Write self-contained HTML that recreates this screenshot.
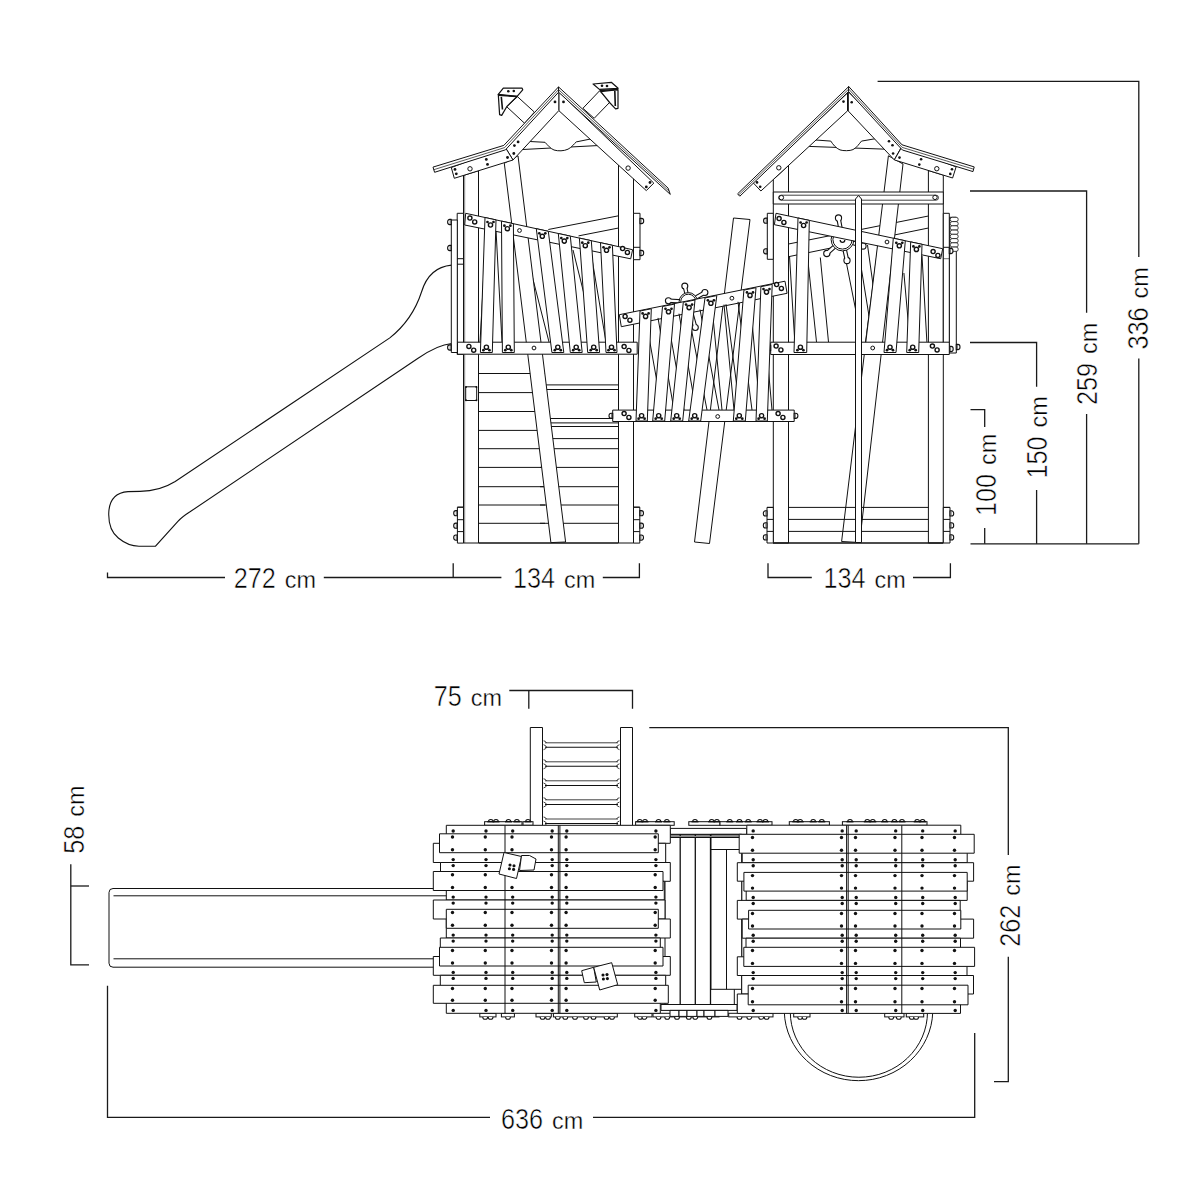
<!DOCTYPE html>
<html><head><meta charset="utf-8"><style>
html,body{margin:0;padding:0;background:#fff;width:1200px;height:1200px;overflow:hidden}
svg{display:block}
</style></head><body>
<svg width="1200" height="1200" viewBox="0 0 1200 1200">
<rect width="1200" height="1200" fill="#fff"/>
<g class="dim" fill="none" stroke="#1a1a1a" stroke-width="1.3">
<!-- 272 / 134 top -->
<polyline points="107.5,572.5 107.5,577.5 225,577.5"/>
<polyline points="323.8,577.5 501.4,577.5"/>
<line x1="453.2" y1="563.2" x2="453.2" y2="577.5"/>
<polyline points="602.8,577.5 639.4,577.5 639.4,563.2"/>
<polyline points="768,563.2 768,577.5 811.8,577.5"/>
<polyline points="913,577.5 950.4,577.5 950.4,563.2"/>
<!-- right verticals -->
<polyline points="877.6,81.3 1138.8,81.3 1138.8,257"/>
<line x1="1138.8" y1="358.4" x2="1138.8" y2="543.8"/>
<polyline points="970,191 1086.6,191 1086.6,312.7"/>
<line x1="1086.6" y1="414" x2="1086.6" y2="543.8"/>
<polyline points="970,342.5 1036.6,342.5 1036.6,386.8"/>
<line x1="1036.6" y1="490" x2="1036.6" y2="543.8"/>
<polyline points="970.5,409.6 984.7,409.6 984.7,427"/>
<line x1="984.7" y1="528" x2="984.7" y2="543.8"/>
<line x1="970.5" y1="543.8" x2="1138.8" y2="543.8"/>
<!-- 75 -->
<polyline points="509.3,690.5 632.5,690.5 632.5,708.8"/>
<line x1="528.8" y1="690.5" x2="528.8" y2="708.8"/>
<!-- 262 -->
<polyline points="649.3,727.7 1008.3,727.7 1008.3,855"/>
<polyline points="1008.3,956.7 1008.3,1081.7 994,1081.7"/>
<!-- 58 -->
<polyline points="70.8,864.3 70.8,964.8 89,964.8"/>
<line x1="70.8" y1="886" x2="89" y2="886"/>
<!-- 636 -->
<polyline points="107.5,985.8 107.5,1117.4 490,1117.4"/>
<polyline points="593,1117.4 974.7,1117.4 974.7,1032.9"/>
</g>
<g font-family="Liberation Sans, sans-serif" fill="#000" stroke="#fff" stroke-linejoin="round">
<g transform="translate(233.8,587.8)"><text x="0" y="0" font-size="29" stroke-width="0.55" textLength="42.0" lengthAdjust="spacingAndGlyphs">272</text><text x="51.0" y="0" font-size="23.8" stroke-width="0.35" textLength="31.2" lengthAdjust="spacingAndGlyphs">cm</text></g>
<g transform="translate(513,587.8)"><text x="0" y="0" font-size="29" stroke-width="0.55" textLength="42.0" lengthAdjust="spacingAndGlyphs">134</text><text x="51.0" y="0" font-size="23.8" stroke-width="0.35" textLength="31.2" lengthAdjust="spacingAndGlyphs">cm</text></g>
<g transform="translate(823.5,587.8)"><text x="0" y="0" font-size="29" stroke-width="0.55" textLength="42.0" lengthAdjust="spacingAndGlyphs">134</text><text x="51.0" y="0" font-size="23.8" stroke-width="0.35" textLength="31.2" lengthAdjust="spacingAndGlyphs">cm</text></g>
<g transform="translate(433.8,706.3)"><text x="0" y="0" font-size="29" stroke-width="0.55" textLength="28.0" lengthAdjust="spacingAndGlyphs">75</text><text x="37.0" y="0" font-size="23.8" stroke-width="0.35" textLength="31.2" lengthAdjust="spacingAndGlyphs">cm</text></g>
<g transform="translate(501,1129)"><text x="0" y="0" font-size="29" stroke-width="0.55" textLength="42.0" lengthAdjust="spacingAndGlyphs">636</text><text x="51.0" y="0" font-size="23.8" stroke-width="0.35" textLength="31.2" lengthAdjust="spacingAndGlyphs">cm</text></g>
<g transform="translate(995.5,516) rotate(-90)"><text x="0" y="0" font-size="29" stroke-width="0.55" textLength="42.0" lengthAdjust="spacingAndGlyphs">100</text><text x="51.0" y="0" font-size="23.8" stroke-width="0.35" textLength="31.2" lengthAdjust="spacingAndGlyphs">cm</text></g>
<g transform="translate(1047,478.5) rotate(-90)"><text x="0" y="0" font-size="29" stroke-width="0.55" textLength="42.0" lengthAdjust="spacingAndGlyphs">150</text><text x="51.0" y="0" font-size="23.8" stroke-width="0.35" textLength="31.2" lengthAdjust="spacingAndGlyphs">cm</text></g>
<g transform="translate(1097,405) rotate(-90)"><text x="0" y="0" font-size="29" stroke-width="0.55" textLength="42.0" lengthAdjust="spacingAndGlyphs">259</text><text x="51.0" y="0" font-size="23.8" stroke-width="0.35" textLength="31.2" lengthAdjust="spacingAndGlyphs">cm</text></g>
<g transform="translate(1148,349.4) rotate(-90)"><text x="0" y="0" font-size="29" stroke-width="0.55" textLength="42.0" lengthAdjust="spacingAndGlyphs">336</text><text x="51.0" y="0" font-size="23.8" stroke-width="0.35" textLength="31.2" lengthAdjust="spacingAndGlyphs">cm</text></g>
<g transform="translate(83.8,853.8) rotate(-90)"><text x="0" y="0" font-size="29" stroke-width="0.55" textLength="28.0" lengthAdjust="spacingAndGlyphs">58</text><text x="37.0" y="0" font-size="23.8" stroke-width="0.35" textLength="31.2" lengthAdjust="spacingAndGlyphs">cm</text></g>
<g transform="translate(1020,946.7) rotate(-90)"><text x="0" y="0" font-size="29" stroke-width="0.55" textLength="42.0" lengthAdjust="spacingAndGlyphs">262</text><text x="51.0" y="0" font-size="23.8" stroke-width="0.35" textLength="31.2" lengthAdjust="spacingAndGlyphs">cm</text></g>
</g><g fill="none" stroke="#111" stroke-width="1.1">
<path d="M451.6,265.1 C436,266.5 426,277 421.5,292 C416,309 406,325 389.8,337.9 L175.2,481.5 C164,488.5 153,491.2 140,491.4 L128,491.6 C116,492.5 109.5,500 108.8,512 C108.2,524 111,532 118.3,538 C125,543.5 132,546.2 139,546.2 L155.5,546.2 L177.9,521.4 C181.5,517.5 185,515 190,511.8 L417.7,358.5 C430,350 440,344.5 451.6,343.5"/>
</g>
<g fill="none" stroke="#111" stroke-width="1" stroke-linejoin="round">
<line x1="521.0" y1="149.6" x2="601.0" y2="145.4"/>
<path d="M545,142.3 C548,145.5 550.5,148.6 554,150 C558,151.3 564,151.1 568,149.2 C572,147.2 574,143.8 576.3,141.9 Z" fill="#fff" stroke="none"/>
<path d="M524,141.2 L545,142.3 C548,145.5 550.5,148.6 554,150 C558,151.3 564,151.1 568,149.2 C572,147.2 574,143.8 576.3,141.9 L593,138.5" fill="none"/>
<line x1="548.3" y1="229.5" x2="618.5" y2="215.8"/>
<line x1="578.5" y1="235.9" x2="618.5" y2="228.0"/>
<line x1="496.0" y1="230.0" x2="502.0" y2="342.0"/>
<line x1="486.0" y1="236.0" x2="480.0" y2="342.0"/>
<line x1="516.0" y1="240.0" x2="530.0" y2="342.0"/>
<line x1="525.0" y1="248.0" x2="549.0" y2="342.0"/>
<line x1="573.0" y1="250.0" x2="596.0" y2="342.0"/>
<line x1="591.0" y1="253.0" x2="606.0" y2="342.0"/>
<line x1="610.0" y1="256.0" x2="614.0" y2="342.0"/>
<line x1="478.5" y1="373.5" x2="545.0" y2="373.5"/>
<line x1="478.5" y1="392.6" x2="545.0" y2="392.6"/>
<line x1="478.5" y1="411.5" x2="545.0" y2="411.5"/>
<line x1="478.5" y1="430.4" x2="545.0" y2="430.4"/>
<line x1="478.5" y1="448.7" x2="545.0" y2="448.7"/>
<line x1="478.5" y1="467.4" x2="545.0" y2="467.4"/>
<line x1="478.5" y1="486.7" x2="545.0" y2="486.7"/>
<line x1="478.5" y1="505.0" x2="545.0" y2="505.0"/>
<line x1="478.5" y1="523.3" x2="545.0" y2="523.3"/>
<line x1="540.0" y1="384.9" x2="618.5" y2="384.9"/>
<line x1="540.0" y1="389.5" x2="618.5" y2="389.5"/>
<line x1="540.0" y1="418.5" x2="618.5" y2="418.5"/>
<line x1="540.0" y1="422.9" x2="618.5" y2="422.9"/>
<line x1="540.0" y1="426.5" x2="618.5" y2="426.5"/>
<line x1="540.0" y1="438.6" x2="618.5" y2="438.6"/>
<line x1="540.0" y1="448.7" x2="618.5" y2="448.7"/>
<line x1="540.0" y1="467.4" x2="618.5" y2="467.4"/>
<line x1="540.0" y1="486.7" x2="618.5" y2="486.7"/>
<line x1="540.0" y1="505.0" x2="618.5" y2="505.0"/>
<line x1="540.0" y1="523.3" x2="618.5" y2="523.3"/>
<line x1="478.5" y1="543.0" x2="618.5" y2="543.0" stroke-width="1.3"/>
<polygon points="504.3,163.3 518.0,155.8 565.6,542.0 550.9,542.6" fill="#fff"/>
<polygon points="463.5,175.4 478.5,170.7 478.5,543.0 463.5,543.0" fill="#fff"/>
<line x1="464.7" y1="175.2" x2="464.7" y2="543.0" stroke-width="0.5"/>
<polygon points="618.5,165.0 633.5,165.0 633.5,543.0 618.5,543.0" fill="#fff"/>
<polygon points="457.2,213.3 463.5,213.3 463.5,354.5 457.2,354.5" fill="#fff"/>
<polygon points="451.3,220.0 457.3,220.0 457.3,352.5 451.3,352.5" fill="#fff"/>
<line x1="457.2" y1="258.7" x2="463.5" y2="258.7"/>
<line x1="457.2" y1="264.2" x2="463.5" y2="264.2"/>
<polygon points="465.7,386.8 476.7,386.8 476.7,400.5 465.7,400.5" fill="#fff"/>
<circle cx="466.0" cy="387.0" r="1.0" fill="#111" stroke="none"/>
<circle cx="476.4" cy="387.0" r="1.0" fill="#111" stroke="none"/>
<circle cx="466.0" cy="400.2" r="1.0" fill="#111" stroke="none"/>
<circle cx="476.4" cy="400.2" r="1.0" fill="#111" stroke="none"/>
<polygon points="457.4,507.2 463.5,507.2 463.5,543.1 457.4,543.1" fill="#fff"/>
<line x1="457.4" y1="507.2" x2="463.5" y2="507.2"/>
<path d="M457.4,510.6 h-1.6 a2.1,2.6 0 0 0 0,5.2 h1.6 z" fill="#fff" stroke-width="1.1"/>
<line x1="456.3" y1="510.6" x2="456.3" y2="515.8" stroke-width="0.6"/>
<line x1="457.4" y1="519.7" x2="463.5" y2="519.7"/>
<path d="M457.4,523.1 h-1.6 a2.1,2.6 0 0 0 0,5.2 h1.6 z" fill="#fff" stroke-width="1.1"/>
<line x1="456.3" y1="523.1" x2="456.3" y2="528.3" stroke-width="0.6"/>
<line x1="457.4" y1="531.6" x2="463.5" y2="531.6"/>
<path d="M457.4,535.0 h-1.6 a2.1,2.6 0 0 0 0,5.2 h1.6 z" fill="#fff" stroke-width="1.1"/>
<line x1="456.3" y1="535.0" x2="456.3" y2="540.2" stroke-width="0.6"/>
<polygon points="633.5,507.2 639.8,507.2 639.8,543.1 633.5,543.1" fill="#fff"/>
<line x1="633.5" y1="507.2" x2="639.8" y2="507.2"/>
<path d="M639.8,510.6 h1.6 a2.1,2.6 0 0 1 0,5.2 h-1.6 z" fill="#fff" stroke-width="1.1"/>
<line x1="640.9" y1="510.6" x2="640.9" y2="515.8" stroke-width="0.6"/>
<line x1="633.5" y1="519.7" x2="639.8" y2="519.7"/>
<path d="M639.8,523.1 h1.6 a2.1,2.6 0 0 1 0,5.2 h-1.6 z" fill="#fff" stroke-width="1.1"/>
<line x1="640.9" y1="523.1" x2="640.9" y2="528.3" stroke-width="0.6"/>
<line x1="633.5" y1="531.6" x2="639.8" y2="531.6"/>
<path d="M639.8,535.0 h1.6 a2.1,2.6 0 0 1 0,5.2 h-1.6 z" fill="#fff" stroke-width="1.1"/>
<line x1="640.9" y1="535.0" x2="640.9" y2="540.2" stroke-width="0.6"/>
<polygon points="633.5,213.3 640.0,213.3 640.0,259.7 633.5,259.7" fill="#fff"/>
<line x1="633.5" y1="247.3" x2="640.0" y2="247.3"/>
<path d="M640.0,218.4 h1.6 a2.1,2.6 0 0 1 0,5.2 h-1.6 z" fill="#fff" stroke-width="1.1"/>
<line x1="641.1" y1="218.4" x2="641.1" y2="223.6" stroke-width="0.6"/>
<path d="M640.0,250.4 h1.6 a2.1,2.6 0 0 1 0,5.2 h-1.6 z" fill="#fff" stroke-width="1.1"/>
<line x1="641.1" y1="250.4" x2="641.1" y2="255.6" stroke-width="0.6"/>
<path d="M451.3,219.4 h-1.6 a2.1,2.6 0 0 0 0,5.2 h1.6 z" fill="#fff" stroke-width="1.1"/>
<line x1="450.2" y1="219.4" x2="450.2" y2="224.6" stroke-width="0.6"/>
<path d="M451.3,245.4 h-1.6 a2.1,2.6 0 0 0 0,5.2 h1.6 z" fill="#fff" stroke-width="1.1"/>
<line x1="450.2" y1="245.4" x2="450.2" y2="250.6" stroke-width="0.6"/>
<path d="M451.3,344.9 h-1.6 a2.1,2.6 0 0 0 0,5.2 h1.6 z" fill="#fff" stroke-width="1.1"/>
<line x1="450.2" y1="344.9" x2="450.2" y2="350.1" stroke-width="0.6"/>
<polygon points="517.5,96.7 534.4,112.1 524.6,123.3 506.7,106.7" fill="#fff"/>
<polygon points="498.3,94.4 517.1,96.3 506.7,106.7 501.7,115.4 499.6,114.6" fill="#fff" stroke-width="1.2"/>
<line x1="501.3" y1="96.8" x2="502.5" y2="109.5" stroke-width="1.6"/>
<polygon points="503.3,88.1 522.1,88.1 522.7,89.8 517.1,96.3 498.3,94.4" fill="#fff" stroke-width="1.2"/>
<line x1="498.5" y1="95.2" x2="517.5" y2="96.6" stroke-width="1.5"/>
<circle cx="508.3" cy="91.2" r="1.3" fill="#111" stroke="none"/>
<circle cx="513.8" cy="91.0" r="1.3" fill="#111" stroke="none"/>
<polygon points="599.6,90.8 610.0,102.0 594.2,118.3 582.9,108.3" fill="#fff"/>
<polygon points="600.8,91.7 618.0,89.6 618.0,108.3 615.6,108.8 610.0,103.0" fill="#fff" stroke-width="1.2"/>
<line x1="614.8" y1="91.0" x2="615.3" y2="106.0" stroke-width="1.6"/>
<polygon points="593.1,84.0 611.3,82.3 618.1,88.3 599.4,89.4" fill="#fff" stroke-width="1.2"/>
<line x1="599.6" y1="90.6" x2="617.8" y2="89.4" stroke-width="1.5"/>
<circle cx="602.0" cy="85.8" r="1.3" fill="#111" stroke="none"/>
<circle cx="607.0" cy="86.0" r="1.3" fill="#111" stroke="none"/>
<polygon points="558.8,91.9 653.8,183.1 646.3,190.6 558.8,110.6" fill="#fff"/>
<polygon points="505.1,147.1 558.8,91.9 558.8,110.6 513.0,160.0" fill="#fff"/>
<polygon points="451.3,167.5 505.1,147.1 513.0,160.0 454.3,178.3" fill="#fff"/>
<polygon points="558.5,86.9 668.1,188.1 670.3,194.4 558.6,92.2" fill="#fff"/>
<line x1="558.5" y1="89.6" x2="669.2" y2="191.3" stroke-width="0.7"/>
<polygon points="433.0,167.1 503.8,145.4 558.5,86.9 558.6,92.2 505.5,149.8 434.6,172.3" fill="#fff"/>
<polyline points="433.8,169.7 504.6,147.6 558.5,89.6" fill="none" stroke-width="0.7"/>
<circle cx="555.0" cy="101.9" r="1.4" fill="#111" stroke="none"/>
<circle cx="563.5" cy="101.9" r="1.4" fill="#111" stroke="none"/>
<circle cx="518.1" cy="141.9" r="1.4" fill="#111" stroke="none"/>
<circle cx="514.4" cy="145.6" r="1.4" fill="#111" stroke="none"/>
<circle cx="513.8" cy="153.5" r="1.4" fill="#111" stroke="none"/>
<circle cx="507.5" cy="157.5" r="1.4" fill="#111" stroke="none"/>
<circle cx="486.3" cy="159.4" r="1.4" fill="#111" stroke="none"/>
<circle cx="487.5" cy="164.4" r="1.4" fill="#111" stroke="none"/>
<circle cx="455.0" cy="169.4" r="1.4" fill="#111" stroke="none"/>
<circle cx="456.3" cy="173.8" r="1.4" fill="#111" stroke="none"/>
<circle cx="650.0" cy="182.5" r="1.4" fill="#111" stroke="none"/>
<circle cx="646.3" cy="186.9" r="1.4" fill="#111" stroke="none"/>
<circle cx="470.0" cy="168.8" r="2.2" fill="#fff"/>
<circle cx="628.1" cy="168.1" r="2.2" fill="#fff"/>
<polygon points="465.7,213.3 632.6,249.7 630.7,258.8 464.7,225.0" fill="#fff"/>
<polygon points="457.5,342.2 637.2,342.2 637.2,354.2 457.5,354.2" fill="#fff"/>
<polygon points="485.0,217.5 496.0,219.9 492.3,352.5 480.4,352.5" fill="#fff"/>
<circle cx="487.5" cy="222.0" r="1.35" fill="#111" stroke="none"/>
<circle cx="493.5" cy="222.0" r="1.35" fill="#111" stroke="none"/>
<circle cx="490.5" cy="225.0" r="2.1" fill="#fff" stroke-width="1.4"/>
<circle cx="483.4" cy="350.2" r="1.35" fill="#111" stroke="none"/>
<circle cx="489.4" cy="350.2" r="1.35" fill="#111" stroke="none"/>
<circle cx="486.4" cy="347.2" r="2.1" fill="#fff" stroke-width="1.4"/>
<polygon points="501.5,221.1 513.4,223.7 514.3,352.5 502.4,352.5" fill="#fff"/>
<circle cx="504.4" cy="225.7" r="1.35" fill="#111" stroke="none"/>
<circle cx="510.4" cy="225.7" r="1.35" fill="#111" stroke="none"/>
<circle cx="507.4" cy="228.7" r="2.1" fill="#fff" stroke-width="1.4"/>
<circle cx="505.3" cy="350.2" r="1.35" fill="#111" stroke="none"/>
<circle cx="511.3" cy="350.2" r="1.35" fill="#111" stroke="none"/>
<circle cx="508.3" cy="347.2" r="2.1" fill="#fff" stroke-width="1.4"/>
<polygon points="536.3,228.7 548.3,231.3 563.8,352.5 551.9,352.5" fill="#fff"/>
<circle cx="539.3" cy="233.3" r="1.35" fill="#111" stroke="none"/>
<circle cx="545.3" cy="233.3" r="1.35" fill="#111" stroke="none"/>
<circle cx="542.3" cy="236.3" r="2.1" fill="#fff" stroke-width="1.4"/>
<circle cx="554.8" cy="350.2" r="1.35" fill="#111" stroke="none"/>
<circle cx="560.8" cy="350.2" r="1.35" fill="#111" stroke="none"/>
<circle cx="557.8" cy="347.2" r="2.1" fill="#fff" stroke-width="1.4"/>
<polygon points="558.3,233.5 570.3,236.1 582.2,352.5 570.3,352.5" fill="#fff"/>
<circle cx="561.3" cy="238.1" r="1.35" fill="#111" stroke="none"/>
<circle cx="567.3" cy="238.1" r="1.35" fill="#111" stroke="none"/>
<circle cx="564.3" cy="241.1" r="2.1" fill="#fff" stroke-width="1.4"/>
<circle cx="573.2" cy="350.2" r="1.35" fill="#111" stroke="none"/>
<circle cx="579.2" cy="350.2" r="1.35" fill="#111" stroke="none"/>
<circle cx="576.2" cy="347.2" r="2.1" fill="#fff" stroke-width="1.4"/>
<polygon points="579.4,238.1 591.3,240.7 599.6,352.5 587.7,352.5" fill="#fff"/>
<circle cx="582.3" cy="242.7" r="1.35" fill="#111" stroke="none"/>
<circle cx="588.3" cy="242.7" r="1.35" fill="#111" stroke="none"/>
<circle cx="585.3" cy="245.7" r="2.1" fill="#fff" stroke-width="1.4"/>
<circle cx="590.7" cy="350.2" r="1.35" fill="#111" stroke="none"/>
<circle cx="596.7" cy="350.2" r="1.35" fill="#111" stroke="none"/>
<circle cx="593.7" cy="347.2" r="2.1" fill="#fff" stroke-width="1.4"/>
<polygon points="600.5,242.7 612.4,245.3 617.0,352.5 606.0,352.5" fill="#fff"/>
<circle cx="603.5" cy="247.3" r="1.35" fill="#111" stroke="none"/>
<circle cx="609.5" cy="247.3" r="1.35" fill="#111" stroke="none"/>
<circle cx="606.5" cy="250.3" r="2.1" fill="#fff" stroke-width="1.4"/>
<circle cx="608.5" cy="350.2" r="1.35" fill="#111" stroke="none"/>
<circle cx="614.5" cy="350.2" r="1.35" fill="#111" stroke="none"/>
<circle cx="611.5" cy="347.2" r="2.1" fill="#fff" stroke-width="1.4"/>
<circle cx="469.9" cy="218.1" r="2.05" fill="#fff" stroke-width="1.4"/>
<circle cx="474.7" cy="221.9" r="2.05" fill="#fff" stroke-width="1.4"/>
<circle cx="622.6" cy="248.6" r="2.05" fill="#fff" stroke-width="1.4"/>
<circle cx="627.4" cy="252.4" r="2.05" fill="#fff" stroke-width="1.4"/>
<circle cx="468.9" cy="346.4" r="2.05" fill="#fff" stroke-width="1.4"/>
<circle cx="473.7" cy="350.2" r="2.05" fill="#fff" stroke-width="1.4"/>
<circle cx="624.1" cy="346.6" r="2.05" fill="#fff" stroke-width="1.4"/>
<circle cx="628.9" cy="350.4" r="2.05" fill="#fff" stroke-width="1.4"/>
<circle cx="519.5" cy="230.5" r="1.9" fill="#fff"/>
<circle cx="534.0" cy="348.0" r="1.9" fill="#fff"/>
</g><g fill="none" stroke="#111" stroke-width="1" stroke-linejoin="round">
<line x1="806.0" y1="146.3" x2="886.0" y2="149.2"/>
<path d="M830.8,141.1 C833,144.5 836,148.3 840,149.9 C843,151 850,151 853,149.6 C857,147.6 859,143.8 861.5,141.1 Z" fill="#fff" stroke="none"/>
<path d="M813,139.8 L830.8,141.1 C833,144.5 836,148.3 840,149.9 C843,151 850,151 853,149.6 C857,147.6 859,143.8 861.5,141.1 L876,138.6" fill="none"/>
<line x1="788.5" y1="244.0" x2="928.4" y2="216.0"/>
<line x1="788.5" y1="256.7" x2="928.4" y2="228.0"/>
<line x1="789.5" y1="256.0" x2="794.8" y2="342.0"/>
<line x1="808.3" y1="264.3" x2="816.5" y2="342.0"/>
<line x1="820.3" y1="257.5" x2="828.5" y2="342.0"/>
<line x1="846.5" y1="263.5" x2="856.3" y2="313.0"/>
<line x1="861.5" y1="269.5" x2="869.0" y2="316.0"/>
<line x1="867.5" y1="245.0" x2="881.0" y2="342.0"/>
<line x1="878.0" y1="246.3" x2="865.5" y2="342.0"/>
<line x1="893.0" y1="250.0" x2="881.0" y2="342.0"/>
<line x1="903.9" y1="273.0" x2="910.0" y2="342.0"/>
<line x1="922.0" y1="256.0" x2="926.9" y2="342.0"/>
<line x1="842.5" y1="239.5" x2="838.5" y2="218" stroke-width="4.6" stroke-linecap="round"/>
<line x1="842.5" y1="239.5" x2="826.8" y2="253.5" stroke-width="4.6" stroke-linecap="round"/>
<line x1="842.5" y1="239.5" x2="847" y2="260.5" stroke-width="4.6" stroke-linecap="round"/>
<line x1="842.5" y1="239.5" x2="863" y2="246" stroke-width="4.6" stroke-linecap="round"/>
<circle cx="838.5" cy="218" r="3.1" fill="#fff" stroke-width="1.1"/>
<circle cx="826.8" cy="253.5" r="3.1" fill="#fff" stroke-width="1.1"/>
<circle cx="847" cy="260.5" r="3.1" fill="#fff" stroke-width="1.1"/>
<circle cx="863" cy="246" r="3.1" fill="#fff" stroke-width="1.1"/>
<line x1="842.5" y1="239.5" x2="838.5" y2="218" stroke="#fff" stroke-width="2.4" stroke-linecap="round"/>
<line x1="842.5" y1="239.5" x2="826.8" y2="253.5" stroke="#fff" stroke-width="2.4" stroke-linecap="round"/>
<line x1="842.5" y1="239.5" x2="847" y2="260.5" stroke="#fff" stroke-width="2.4" stroke-linecap="round"/>
<line x1="842.5" y1="239.5" x2="863" y2="246" stroke="#fff" stroke-width="2.4" stroke-linecap="round"/>
<circle cx="842.5" cy="239.5" r="11.4" fill="#fff"/>
<circle cx="842.5" cy="239.5" r="9.6" fill="#fff"/>
<path d="M840.2,240.0 A2.3,2.3 0 0 0 844.8,240.0" fill="none" stroke-width="1.3"/>
<polygon points="888.4,155.8 903.0,164.0 859.6,542.5 841.6,541.5" fill="#fff"/>
<polygon points="773.3,179.6 788.5,165.5 788.5,543.0 773.3,543.0" fill="#fff"/>
<polygon points="928.4,170.5 943.3,175.1 943.3,543.0 928.4,543.0" fill="#fff"/>
<line x1="788.5" y1="507.4" x2="928.4" y2="507.4"/>
<line x1="788.5" y1="519.4" x2="928.4" y2="519.4"/>
<line x1="788.5" y1="531.4" x2="928.4" y2="531.4"/>
<line x1="773.0" y1="543.0" x2="943.3" y2="543.0" stroke-width="1.3"/>
<polygon points="773.3,192.0 943.3,192.0 943.3,204.0 773.3,204.0" fill="#fff"/>
<path d="M781,195.2 L936,195.2 A2.5,2.5 0 0 1 936,200.2 L781,200.2 A2.5,2.5 0 0 1 781,195.2 Z" fill="none" stroke-width="0.8"/>
<circle cx="781.4" cy="197.6" r="2.2" fill="#fff"/>
<circle cx="935.0" cy="197.4" r="2.2" fill="#fff"/>
<polygon points="767.0,507.4 773.3,507.4 773.3,543.0 767.0,543.0" fill="#fff"/>
<line x1="767.0" y1="507.4" x2="773.3" y2="507.4"/>
<path d="M767.0,510.8 h-1.6 a2.1,2.6 0 0 0 0,5.2 h1.6 z" fill="#fff" stroke-width="1.1"/>
<line x1="765.9" y1="510.8" x2="765.9" y2="516.0" stroke-width="0.6"/>
<line x1="767.0" y1="519.4" x2="773.3" y2="519.4"/>
<path d="M767.0,522.8 h-1.6 a2.1,2.6 0 0 0 0,5.2 h1.6 z" fill="#fff" stroke-width="1.1"/>
<line x1="765.9" y1="522.8" x2="765.9" y2="528.0" stroke-width="0.6"/>
<line x1="767.0" y1="531.4" x2="773.3" y2="531.4"/>
<path d="M767.0,534.8 h-1.6 a2.1,2.6 0 0 0 0,5.2 h1.6 z" fill="#fff" stroke-width="1.1"/>
<line x1="765.9" y1="534.8" x2="765.9" y2="540.0" stroke-width="0.6"/>
<polygon points="943.3,507.4 950.0,507.4 950.0,543.0 943.3,543.0" fill="#fff"/>
<line x1="943.3" y1="507.4" x2="950.0" y2="507.4"/>
<path d="M950.0,510.8 h1.6 a2.1,2.6 0 0 1 0,5.2 h-1.6 z" fill="#fff" stroke-width="1.1"/>
<line x1="951.1" y1="510.8" x2="951.1" y2="516.0" stroke-width="0.6"/>
<line x1="943.3" y1="519.4" x2="950.0" y2="519.4"/>
<path d="M950.0,522.8 h1.6 a2.1,2.6 0 0 1 0,5.2 h-1.6 z" fill="#fff" stroke-width="1.1"/>
<line x1="951.1" y1="522.8" x2="951.1" y2="528.0" stroke-width="0.6"/>
<line x1="943.3" y1="531.4" x2="950.0" y2="531.4"/>
<path d="M950.0,534.8 h1.6 a2.1,2.6 0 0 1 0,5.2 h-1.6 z" fill="#fff" stroke-width="1.1"/>
<line x1="951.1" y1="534.8" x2="951.1" y2="540.0" stroke-width="0.6"/>
<polygon points="847.5,93.0 752.8,182.4 760.9,191.0 847.5,110.9" fill="#fff"/>
<polygon points="848.2,91.7 902.4,145.3 894.3,159.9 848.2,110.9" fill="#fff"/>
<polygon points="902.4,145.9 956.1,166.9 952.6,178.0 894.3,159.9" fill="#fff"/>
<polygon points="848.6,86.7 737.6,193.8 739.8,196.2 848.6,91.6" fill="#fff"/>
<line x1="848.6" y1="89.2" x2="738.6" y2="195.0" stroke-width="0.7"/>
<polygon points="848.6,86.4 902.0,144.8 974.2,166.9 973.0,171.6 902.4,150.0 848.6,91.6" fill="#fff"/>
<polyline points="848.6,89 902.2,147.4 973.6,169.2" fill="none" stroke-width="0.7"/>
<line x1="848.0" y1="92.0" x2="848.0" y2="111.0"/>
<circle cx="843.5" cy="101.6" r="1.3" fill="#111" stroke="none"/>
<circle cx="851.7" cy="102.2" r="1.3" fill="#111" stroke="none"/>
<circle cx="889.0" cy="141.3" r="1.3" fill="#111" stroke="none"/>
<circle cx="892.5" cy="145.3" r="1.3" fill="#111" stroke="none"/>
<circle cx="893.1" cy="153.5" r="1.3" fill="#111" stroke="none"/>
<circle cx="899.5" cy="157.6" r="1.3" fill="#111" stroke="none"/>
<circle cx="921.1" cy="159.3" r="1.3" fill="#111" stroke="none"/>
<circle cx="919.3" cy="164.6" r="1.3" fill="#111" stroke="none"/>
<circle cx="952.0" cy="169.3" r="1.3" fill="#111" stroke="none"/>
<circle cx="950.3" cy="173.9" r="1.3" fill="#111" stroke="none"/>
<circle cx="757.0" cy="182.4" r="1.3" fill="#111" stroke="none"/>
<circle cx="760.2" cy="186.7" r="1.3" fill="#111" stroke="none"/>
<circle cx="936.8" cy="168.7" r="2.2" fill="#fff"/>
<circle cx="778.8" cy="167.8" r="2.2" fill="#fff"/>
<polygon points="949.3,217.3 956.3,217.3 956.3,353.0 949.3,353.0" fill="#fff"/>
<rect x="950.2" y="217.3" width="8" height="4.25" rx="2" fill="#fff" stroke-width="0.8"/>
<rect x="950.2" y="221.6" width="8" height="4.25" rx="2" fill="#fff" stroke-width="0.8"/>
<rect x="950.2" y="225.8" width="8" height="4.25" rx="2" fill="#fff" stroke-width="0.8"/>
<rect x="950.2" y="230.1" width="8" height="4.25" rx="2" fill="#fff" stroke-width="0.8"/>
<rect x="950.2" y="234.3" width="8" height="4.25" rx="2" fill="#fff" stroke-width="0.8"/>
<rect x="950.2" y="238.6" width="8" height="4.25" rx="2" fill="#fff" stroke-width="0.8"/>
<rect x="950.2" y="242.8" width="8" height="4.25" rx="2" fill="#fff" stroke-width="0.8"/>
<rect x="950.2" y="247.1" width="8" height="4.25" rx="2" fill="#fff" stroke-width="0.8"/>
<polygon points="943.3,213.3 949.3,213.3 949.3,353.0 943.3,353.0" fill="#fff"/>
<line x1="943.3" y1="247.3" x2="949.3" y2="247.3"/>
<line x1="943.3" y1="258.7" x2="949.3" y2="258.7" stroke-width="0.6"/>
<path d="M949.3,248.4 h1.6 a2.1,2.6 0 0 1 0,5.2 h-1.6 z" fill="#fff" stroke-width="1.1"/>
<line x1="950.4" y1="248.4" x2="950.4" y2="253.6" stroke-width="0.6"/>
<path d="M956.3,344.4 h1.6 a2.1,2.6 0 0 1 0,5.2 h-1.6 z" fill="#fff" stroke-width="1.1"/>
<line x1="957.4" y1="344.4" x2="957.4" y2="349.6" stroke-width="0.6"/>
<path d="M949.5,346.4 h1.6 a2.1,2.6 0 0 1 0,5.2 h-1.6 z" fill="#fff" stroke-width="1.1"/>
<line x1="950.6" y1="346.4" x2="950.6" y2="351.6" stroke-width="0.6"/>
<polygon points="767.3,213.3 773.3,213.3 773.3,259.3 767.3,259.3" fill="#fff"/>
<path d="M767.3,218.1 h-1.6 a2.1,2.6 0 0 0 0,5.2 h1.6 z" fill="#fff" stroke-width="1.1"/>
<line x1="766.2" y1="218.1" x2="766.2" y2="223.3" stroke-width="0.6"/>
<path d="M767.3,248.7 h-1.6 a2.1,2.6 0 0 0 0,5.2 h1.6 z" fill="#fff" stroke-width="1.1"/>
<line x1="766.2" y1="248.7" x2="766.2" y2="253.9" stroke-width="0.6"/>
<polygon points="776.0,213.3 942.7,248.7 940.7,258.7 774.4,224.7" fill="#fff"/>
<polygon points="770.7,342.2 949.3,342.2 949.3,354.5 770.7,354.5" fill="#fff"/>
<path d="M770.7,345.4 h-1.6 a2.1,2.6 0 0 0 0,5.2 h1.6 z" fill="#fff" stroke-width="1.1"/>
<line x1="769.6" y1="345.4" x2="769.6" y2="350.6" stroke-width="0.6"/>
<polygon points="798.0,218.0 809.3,220.4 806.7,352.5 794.0,352.5" fill="#fff"/>
<circle cx="800.6" cy="222.5" r="1.35" fill="#111" stroke="none"/>
<circle cx="806.6" cy="222.5" r="1.35" fill="#111" stroke="none"/>
<circle cx="803.6" cy="225.5" r="2.1" fill="#fff" stroke-width="1.4"/>
<circle cx="797.4" cy="350.2" r="1.35" fill="#111" stroke="none"/>
<circle cx="803.4" cy="350.2" r="1.35" fill="#111" stroke="none"/>
<circle cx="800.4" cy="347.2" r="2.1" fill="#fff" stroke-width="1.4"/>
<polygon points="893.3,238.2 905.3,240.8 896.0,352.5 884.0,352.5" fill="#fff"/>
<circle cx="896.3" cy="242.8" r="1.35" fill="#111" stroke="none"/>
<circle cx="902.3" cy="242.8" r="1.35" fill="#111" stroke="none"/>
<circle cx="899.3" cy="245.8" r="2.1" fill="#fff" stroke-width="1.4"/>
<circle cx="887.0" cy="350.2" r="1.35" fill="#111" stroke="none"/>
<circle cx="893.0" cy="350.2" r="1.35" fill="#111" stroke="none"/>
<circle cx="890.0" cy="347.2" r="2.1" fill="#fff" stroke-width="1.4"/>
<polygon points="910.7,241.9 922.0,244.3 918.7,352.5 906.7,352.5" fill="#fff"/>
<circle cx="913.4" cy="246.4" r="1.35" fill="#111" stroke="none"/>
<circle cx="919.4" cy="246.4" r="1.35" fill="#111" stroke="none"/>
<circle cx="916.4" cy="249.4" r="2.1" fill="#fff" stroke-width="1.4"/>
<circle cx="909.7" cy="350.2" r="1.35" fill="#111" stroke="none"/>
<circle cx="915.7" cy="350.2" r="1.35" fill="#111" stroke="none"/>
<circle cx="912.7" cy="347.2" r="2.1" fill="#fff" stroke-width="1.4"/>
<circle cx="779.1" cy="218.6" r="2.05" fill="#fff" stroke-width="1.4"/>
<circle cx="783.9" cy="222.4" r="2.05" fill="#fff" stroke-width="1.4"/>
<circle cx="933.1" cy="251.6" r="2.05" fill="#fff" stroke-width="1.4"/>
<circle cx="937.9" cy="255.4" r="2.05" fill="#fff" stroke-width="1.4"/>
<circle cx="776.1" cy="346.1" r="2.05" fill="#fff" stroke-width="1.4"/>
<circle cx="780.9" cy="349.9" r="2.05" fill="#fff" stroke-width="1.4"/>
<circle cx="932.4" cy="346.1" r="2.05" fill="#fff" stroke-width="1.4"/>
<circle cx="937.1" cy="349.9" r="2.05" fill="#fff" stroke-width="1.4"/>
<circle cx="887.0" cy="242.0" r="1.9" fill="#fff"/>
<circle cx="872.7" cy="348.0" r="1.9" fill="#fff"/>
<polygon points="855.5,542.5 855.5,199.0 858.5,195.5 861.5,199.0 861.5,542.5" fill="#fff"/>
</g><g fill="none" stroke="#111" stroke-width="1" stroke-linejoin="round">
<polygon points="733.5,218.0 750.0,219.5 709.5,543.5 694.5,542.0" fill="#fff"/>
<line x1="688.3" y1="301.8" x2="684.8" y2="286.1" stroke-width="4.4" stroke-linecap="round"/>
<line x1="688.3" y1="301.8" x2="668.4" y2="300.7" stroke-width="4.4" stroke-linecap="round"/>
<line x1="688.3" y1="301.8" x2="704.9" y2="292.5" stroke-width="4.4" stroke-linecap="round"/>
<line x1="688.3" y1="301.8" x2="695.3" y2="327.5" stroke-width="4.4" stroke-linecap="round"/>
<circle cx="684.8" cy="286.1" r="3" fill="#fff" stroke-width="1.1"/>
<circle cx="668.4" cy="300.7" r="3" fill="#fff" stroke-width="1.1"/>
<circle cx="704.9" cy="292.5" r="3" fill="#fff" stroke-width="1.1"/>
<circle cx="695.3" cy="327.5" r="3" fill="#fff" stroke-width="1.1"/>
<line x1="688.3" y1="301.8" x2="684.8" y2="286.1" stroke="#fff" stroke-width="2.3" stroke-linecap="round"/>
<line x1="688.3" y1="301.8" x2="668.4" y2="300.7" stroke="#fff" stroke-width="2.3" stroke-linecap="round"/>
<line x1="688.3" y1="301.8" x2="704.9" y2="292.5" stroke="#fff" stroke-width="2.3" stroke-linecap="round"/>
<line x1="688.3" y1="301.8" x2="695.3" y2="327.5" stroke="#fff" stroke-width="2.3" stroke-linecap="round"/>
<circle cx="688.3" cy="301.8" r="9.2" fill="#fff"/>
<circle cx="688.3" cy="301.8" r="7.6" fill="#fff"/>
<polygon points="619.3,314.7 785.0,281.2 787.1,293.3 621.3,326.7" fill="#fff"/>
<line x1="646.0" y1="320.3" x2="662.0" y2="410.0"/>
<line x1="658.0" y1="317.9" x2="674.0" y2="410.0"/>
<line x1="667.0" y1="316.1" x2="684.0" y2="410.0"/>
<line x1="679.0" y1="313.7" x2="696.0" y2="410.0"/>
<line x1="688.0" y1="311.9" x2="707.0" y2="410.0"/>
<line x1="700.0" y1="309.5" x2="719.0" y2="410.0"/>
<line x1="712.0" y1="307.0" x2="722.0" y2="410.0"/>
<line x1="724.0" y1="304.6" x2="734.0" y2="410.0"/>
<line x1="726.0" y1="304.2" x2="740.0" y2="410.0"/>
<line x1="738.0" y1="301.8" x2="752.0" y2="410.0"/>
<line x1="750.0" y1="299.4" x2="760.0" y2="410.0"/>
<line x1="762.0" y1="297.0" x2="772.0" y2="410.0"/>
<polygon points="612.7,410.1 794.2,410.1 794.2,421.5 612.7,421.5" fill="#fff"/>
<polygon points="640.0,311.0 651.3,308.8 647.3,421.0 636.0,421.0" fill="#fff"/>
<circle cx="642.6" cy="313.4" r="1.35" fill="#111" stroke="none"/>
<circle cx="648.6" cy="313.4" r="1.35" fill="#111" stroke="none"/>
<circle cx="645.6" cy="316.4" r="2.1" fill="#fff" stroke-width="1.4"/>
<circle cx="638.6" cy="418.7" r="1.35" fill="#111" stroke="none"/>
<circle cx="644.6" cy="418.7" r="1.35" fill="#111" stroke="none"/>
<circle cx="641.6" cy="415.7" r="2.1" fill="#fff" stroke-width="1.4"/>
<polygon points="662.5,306.5 674.5,304.1 664.7,421.0 652.7,421.0" fill="#fff"/>
<circle cx="665.5" cy="308.8" r="1.35" fill="#111" stroke="none"/>
<circle cx="671.5" cy="308.8" r="1.35" fill="#111" stroke="none"/>
<circle cx="668.5" cy="311.8" r="2.1" fill="#fff" stroke-width="1.4"/>
<circle cx="655.7" cy="418.7" r="1.35" fill="#111" stroke="none"/>
<circle cx="661.7" cy="418.7" r="1.35" fill="#111" stroke="none"/>
<circle cx="658.7" cy="415.7" r="2.1" fill="#fff" stroke-width="1.4"/>
<polygon points="683.3,302.3 695.0,300.0 682.7,421.0 670.7,421.0" fill="#fff"/>
<circle cx="686.1" cy="304.6" r="1.35" fill="#111" stroke="none"/>
<circle cx="692.1" cy="304.6" r="1.35" fill="#111" stroke="none"/>
<circle cx="689.1" cy="307.6" r="2.1" fill="#fff" stroke-width="1.4"/>
<circle cx="673.7" cy="418.7" r="1.35" fill="#111" stroke="none"/>
<circle cx="679.7" cy="418.7" r="1.35" fill="#111" stroke="none"/>
<circle cx="676.7" cy="415.7" r="2.1" fill="#fff" stroke-width="1.4"/>
<polygon points="705.0,297.9 716.8,295.6 700.7,421.0 688.7,421.0" fill="#fff"/>
<circle cx="707.9" cy="300.3" r="1.35" fill="#111" stroke="none"/>
<circle cx="713.9" cy="300.3" r="1.35" fill="#111" stroke="none"/>
<circle cx="710.9" cy="303.3" r="2.1" fill="#fff" stroke-width="1.4"/>
<circle cx="691.7" cy="418.7" r="1.35" fill="#111" stroke="none"/>
<circle cx="697.7" cy="418.7" r="1.35" fill="#111" stroke="none"/>
<circle cx="694.7" cy="415.7" r="2.1" fill="#fff" stroke-width="1.4"/>
<polygon points="743.9,290.1 756.0,287.7 745.3,421.0 733.3,421.0" fill="#fff"/>
<circle cx="747.0" cy="292.4" r="1.35" fill="#111" stroke="none"/>
<circle cx="753.0" cy="292.4" r="1.35" fill="#111" stroke="none"/>
<circle cx="750.0" cy="295.4" r="2.1" fill="#fff" stroke-width="1.4"/>
<circle cx="736.3" cy="418.7" r="1.35" fill="#111" stroke="none"/>
<circle cx="742.3" cy="418.7" r="1.35" fill="#111" stroke="none"/>
<circle cx="739.3" cy="415.7" r="2.1" fill="#fff" stroke-width="1.4"/>
<polygon points="760.9,286.7 772.2,284.4 767.3,421.0 756.0,421.0" fill="#fff"/>
<circle cx="763.5" cy="289.1" r="1.35" fill="#111" stroke="none"/>
<circle cx="769.5" cy="289.1" r="1.35" fill="#111" stroke="none"/>
<circle cx="766.5" cy="292.1" r="2.1" fill="#fff" stroke-width="1.4"/>
<circle cx="758.6" cy="418.7" r="1.35" fill="#111" stroke="none"/>
<circle cx="764.6" cy="418.7" r="1.35" fill="#111" stroke="none"/>
<circle cx="761.6" cy="415.7" r="2.1" fill="#fff" stroke-width="1.4"/>
<circle cx="625.1" cy="316.4" r="2.05" fill="#fff" stroke-width="1.4"/>
<circle cx="629.9" cy="320.2" r="2.05" fill="#fff" stroke-width="1.4"/>
<circle cx="776.6" cy="284.6" r="2.05" fill="#fff" stroke-width="1.4"/>
<circle cx="781.4" cy="288.4" r="2.05" fill="#fff" stroke-width="1.4"/>
<circle cx="624.1" cy="413.6" r="2.05" fill="#fff" stroke-width="1.4"/>
<circle cx="628.9" cy="417.4" r="2.05" fill="#fff" stroke-width="1.4"/>
<circle cx="778.1" cy="413.6" r="2.05" fill="#fff" stroke-width="1.4"/>
<circle cx="782.9" cy="417.4" r="2.05" fill="#fff" stroke-width="1.4"/>
<circle cx="731.9" cy="298.2" r="1.9" fill="#fff"/>
<circle cx="717.7" cy="416.5" r="1.9" fill="#fff"/>
<path d="M612.7,413.2 h-1.6 a2.1,2.6 0 0 0 0,5.2 h1.6 z" fill="#fff" stroke-width="1.1"/>
<line x1="611.6" y1="413.2" x2="611.6" y2="418.4" stroke-width="0.6"/>
<path d="M794.2,413.2 h1.6 a2.1,2.6 0 0 1 0,5.2 h-1.6 z" fill="#fff" stroke-width="1.1"/>
<line x1="795.3" y1="413.2" x2="795.3" y2="418.4" stroke-width="0.6"/>
</g><g fill="none" stroke="#111" stroke-width="1" stroke-linejoin="miter">
<path d="M447,888.5 L113,888.5 Q109,888.5 109,892.5 L109,963.2 Q109,967.2 113,967.2 L447,967.2" fill="#fff"/>
<line x1="113.5" y1="895.8" x2="447.0" y2="895.8"/>
<line x1="113.5" y1="958.8" x2="447.0" y2="958.8"/>
<path d="M784.3,1012 A74.25,70.5 0 0 0 932.75,1012" fill="none"/>
<path d="M790.3,1012 A68.6,65.25 0 0 0 927.5,1012" fill="none"/>
<polygon points="530.3,727.5 542.5,727.5 542.5,826.0 530.3,826.0" fill="#fff"/>
<polygon points="620.5,727.5 632.5,727.5 632.5,826.0 620.5,826.0" fill="#fff"/>
<line x1="545.0" y1="742.8" x2="618.0" y2="742.8" stroke-width="0.8"/>
<line x1="545.0" y1="747.2" x2="618.0" y2="747.2" stroke-width="1.1"/>
<path d="M543.5,740.8 q2,0 3,2 M543.5,744.7 q3,1 3,2.5 q0,1.5 -3,2.5" stroke-width="0.8"/>
<path d="M619.5,740.8 q-2,0 -3,2 M619.5,744.7 q-3,1 -3,2.5 q0,1.5 3,2.5" stroke-width="0.8"/>
<line x1="545.0" y1="761.8" x2="618.0" y2="761.8" stroke-width="0.8"/>
<line x1="545.0" y1="766.3" x2="618.0" y2="766.3" stroke-width="1.1"/>
<path d="M543.5,759.8 q2,0 3,2 M543.5,763.8 q3,1 3,2.5 q0,1.5 -3,2.5" stroke-width="0.8"/>
<path d="M619.5,759.8 q-2,0 -3,2 M619.5,763.8 q-3,1 -3,2.5 q0,1.5 3,2.5" stroke-width="0.8"/>
<line x1="545.0" y1="780.8" x2="618.0" y2="780.8" stroke-width="0.8"/>
<line x1="545.0" y1="785.5" x2="618.0" y2="785.5" stroke-width="1.1"/>
<path d="M543.5,778.8 q2,0 3,2 M543.5,783.0 q3,1 3,2.5 q0,1.5 -3,2.5" stroke-width="0.8"/>
<path d="M619.5,778.8 q-2,0 -3,2 M619.5,783.0 q-3,1 -3,2.5 q0,1.5 3,2.5" stroke-width="0.8"/>
<line x1="545.0" y1="799.8" x2="618.0" y2="799.8" stroke-width="0.8"/>
<line x1="545.0" y1="804.5" x2="618.0" y2="804.5" stroke-width="1.1"/>
<path d="M543.5,797.8 q2,0 3,2 M543.5,802.0 q3,1 3,2.5 q0,1.5 -3,2.5" stroke-width="0.8"/>
<path d="M619.5,797.8 q-2,0 -3,2 M619.5,802.0 q-3,1 -3,2.5 q0,1.5 3,2.5" stroke-width="0.8"/>
<line x1="545.0" y1="819.0" x2="618.0" y2="819.0" stroke-width="0.8"/>
<line x1="545.0" y1="823.5" x2="618.0" y2="823.5" stroke-width="1.1"/>
<path d="M543.5,817 q2,0 3,2 M543.5,821.0 q3,1 3,2.5 q0,1.5 -3,2.5" stroke-width="0.8"/>
<path d="M619.5,817 q-2,0 -3,2 M619.5,821.0 q-3,1 -3,2.5 q0,1.5 3,2.5" stroke-width="0.8"/>
<path d="M488.4,821.9 A2.4,2.4 0 0 1 493.2,821.9" fill="#fff" stroke-width="1.1"/>
<path d="M493.6,821.9 A2.4,2.4 0 0 1 498.4,821.9" fill="#fff" stroke-width="1.1"/>
<path d="M506.1,821.9 A2.4,2.4 0 0 1 510.9,821.9" fill="#fff" stroke-width="1.1"/>
<path d="M514.5,821.9 A2.4,2.4 0 0 1 519.3,821.9" fill="#fff" stroke-width="1.1"/>
<rect x="484.6" y="821.6999999999999" width="37.4" height="3.6" fill="#fff" stroke-width="1"/>
<line x1="487.3" y1="821.7" x2="494.3" y2="821.7" stroke-width="1.4"/>
<line x1="492.5" y1="821.7" x2="499.5" y2="821.7" stroke-width="1.4"/>
<line x1="505.0" y1="821.7" x2="512.0" y2="821.7" stroke-width="1.4"/>
<line x1="513.4" y1="821.7" x2="520.4" y2="821.7" stroke-width="1.4"/>
<path d="M525.6,821.9 A2.4,2.4 0 0 1 530.4,821.9" fill="#fff" stroke-width="1.1"/>
<rect x="523" y="821.6999999999999" width="10.0" height="3.6" fill="#fff" stroke-width="1"/>
<line x1="524.5" y1="821.7" x2="531.5" y2="821.7" stroke-width="1.4"/>
<path d="M637.4,821.9 A2.4,2.4 0 0 1 642.2,821.9" fill="#fff" stroke-width="1.1"/>
<path d="M642.6,821.9 A2.4,2.4 0 0 1 647.4,821.9" fill="#fff" stroke-width="1.1"/>
<path d="M656.1,821.9 A2.4,2.4 0 0 1 660.9,821.9" fill="#fff" stroke-width="1.1"/>
<path d="M664.5,821.9 A2.4,2.4 0 0 1 669.3,821.9" fill="#fff" stroke-width="1.1"/>
<rect x="635.6" y="821.6999999999999" width="38.6" height="3.6" fill="#fff" stroke-width="1"/>
<line x1="636.3" y1="821.7" x2="643.3" y2="821.7" stroke-width="1.4"/>
<line x1="641.5" y1="821.7" x2="648.5" y2="821.7" stroke-width="1.4"/>
<line x1="655.0" y1="821.7" x2="662.0" y2="821.7" stroke-width="1.4"/>
<line x1="663.4" y1="821.7" x2="670.4" y2="821.7" stroke-width="1.4"/>
<path d="M692.6,821.9 A2.4,2.4 0 0 1 697.4,821.9" fill="#fff" stroke-width="1.1"/>
<path d="M709.3,821.9 A2.4,2.4 0 0 1 714.1,821.9" fill="#fff" stroke-width="1.1"/>
<path d="M714.5,821.9 A2.4,2.4 0 0 1 719.3,821.9" fill="#fff" stroke-width="1.1"/>
<rect x="688.8" y="821.6999999999999" width="31.2" height="3.6" fill="#fff" stroke-width="1"/>
<line x1="691.5" y1="821.7" x2="698.5" y2="821.7" stroke-width="1.4"/>
<line x1="708.2" y1="821.7" x2="715.2" y2="821.7" stroke-width="1.4"/>
<line x1="713.4" y1="821.7" x2="720.4" y2="821.7" stroke-width="1.4"/>
<path d="M727.4,821.9 A2.4,2.4 0 0 1 732.2,821.9" fill="#fff" stroke-width="1.1"/>
<path d="M737.1,821.9 A2.4,2.4 0 0 1 741.9,821.9" fill="#fff" stroke-width="1.1"/>
<path d="M745.8,821.9 A2.4,2.4 0 0 1 750.6,821.9" fill="#fff" stroke-width="1.1"/>
<path d="M757.6,821.9 A2.4,2.4 0 0 1 762.4,821.9" fill="#fff" stroke-width="1.1"/>
<path d="M763.1,821.9 A2.4,2.4 0 0 1 767.9,821.9" fill="#fff" stroke-width="1.1"/>
<rect x="720" y="821.6999999999999" width="52.0" height="3.6" fill="#fff" stroke-width="1"/>
<line x1="726.3" y1="821.7" x2="733.3" y2="821.7" stroke-width="1.4"/>
<line x1="736.0" y1="821.7" x2="743.0" y2="821.7" stroke-width="1.4"/>
<line x1="744.7" y1="821.7" x2="751.7" y2="821.7" stroke-width="1.4"/>
<line x1="756.5" y1="821.7" x2="763.5" y2="821.7" stroke-width="1.4"/>
<line x1="762.0" y1="821.7" x2="769.0" y2="821.7" stroke-width="1.4"/>
<path d="M793.4,821.9 A2.4,2.4 0 0 1 798.2,821.9" fill="#fff" stroke-width="1.1"/>
<path d="M797.8,821.9 A2.4,2.4 0 0 1 802.6,821.9" fill="#fff" stroke-width="1.1"/>
<path d="M810.8,821.9 A2.4,2.4 0 0 1 815.6,821.9" fill="#fff" stroke-width="1.1"/>
<path d="M819.4,821.9 A2.4,2.4 0 0 1 824.2,821.9" fill="#fff" stroke-width="1.1"/>
<rect x="789.3" y="821.6999999999999" width="40.1" height="3.6" fill="#fff" stroke-width="1"/>
<line x1="792.3" y1="821.7" x2="799.3" y2="821.7" stroke-width="1.4"/>
<line x1="796.7" y1="821.7" x2="803.7" y2="821.7" stroke-width="1.4"/>
<line x1="809.7" y1="821.7" x2="816.7" y2="821.7" stroke-width="1.4"/>
<line x1="818.3" y1="821.7" x2="825.3" y2="821.7" stroke-width="1.4"/>
<path d="M847.6,821.9 A2.4,2.4 0 0 1 852.4,821.9" fill="#fff" stroke-width="1.1"/>
<path d="M864.9,821.9 A2.4,2.4 0 0 1 869.7,821.9" fill="#fff" stroke-width="1.1"/>
<path d="M870.4,821.9 A2.4,2.4 0 0 1 875.2,821.9" fill="#fff" stroke-width="1.1"/>
<path d="M882.3,821.9 A2.4,2.4 0 0 1 887.1,821.9" fill="#fff" stroke-width="1.1"/>
<path d="M892.0,821.9 A2.4,2.4 0 0 1 896.8,821.9" fill="#fff" stroke-width="1.1"/>
<path d="M899.6,821.9 A2.4,2.4 0 0 1 904.4,821.9" fill="#fff" stroke-width="1.1"/>
<path d="M914.8,821.9 A2.4,2.4 0 0 1 919.6,821.9" fill="#fff" stroke-width="1.1"/>
<path d="M920.2,821.9 A2.4,2.4 0 0 1 925.0,821.9" fill="#fff" stroke-width="1.1"/>
<rect x="842.4" y="821.6999999999999" width="84.6" height="3.6" fill="#fff" stroke-width="1"/>
<line x1="846.5" y1="821.7" x2="853.5" y2="821.7" stroke-width="1.4"/>
<line x1="863.8" y1="821.7" x2="870.8" y2="821.7" stroke-width="1.4"/>
<line x1="869.3" y1="821.7" x2="876.3" y2="821.7" stroke-width="1.4"/>
<line x1="881.2" y1="821.7" x2="888.2" y2="821.7" stroke-width="1.4"/>
<line x1="890.9" y1="821.7" x2="897.9" y2="821.7" stroke-width="1.4"/>
<line x1="898.5" y1="821.7" x2="905.5" y2="821.7" stroke-width="1.4"/>
<line x1="913.7" y1="821.7" x2="920.7" y2="821.7" stroke-width="1.4"/>
<line x1="919.1" y1="821.7" x2="926.1" y2="821.7" stroke-width="1.4"/>
<rect x="479.8" y="1013.3" width="16.2" height="3.6" fill="#fff" stroke-width="1"/>
<path d="M482.8,1016.9 A2.4,2.4 0 0 0 487.6,1016.9" fill="#fff" stroke-width="1.1"/>
<path d="M488.2,1016.9 A2.4,2.4 0 0 0 493.0,1016.9" fill="#fff" stroke-width="1.1"/>
<rect x="501.4" y="1013.3" width="13.0" height="3.6" fill="#fff" stroke-width="1"/>
<path d="M505.6,1016.9 A2.4,2.4 0 0 0 510.4,1016.9" fill="#fff" stroke-width="1.1"/>
<rect x="536" y="1013.3" width="15.3" height="3.6" fill="#fff" stroke-width="1"/>
<path d="M540.2,1016.9 A2.4,2.4 0 0 0 545.0,1016.9" fill="#fff" stroke-width="1.1"/>
<path d="M545.6,1016.9 A2.4,2.4 0 0 0 550.4,1016.9" fill="#fff" stroke-width="1.1"/>
<rect x="553.4" y="1013.3" width="63.9" height="3.6" fill="#fff" stroke-width="1"/>
<path d="M555.4,1016.9 A2.4,2.4 0 0 0 560.2,1016.9" fill="#fff" stroke-width="1.1"/>
<path d="M562.9,1016.9 A2.4,2.4 0 0 0 567.7,1016.9" fill="#fff" stroke-width="1.1"/>
<path d="M572.6,1016.9 A2.4,2.4 0 0 0 577.4,1016.9" fill="#fff" stroke-width="1.1"/>
<path d="M583.6,1016.9 A2.4,2.4 0 0 0 588.4,1016.9" fill="#fff" stroke-width="1.1"/>
<path d="M591.1,1016.9 A2.4,2.4 0 0 0 595.9,1016.9" fill="#fff" stroke-width="1.1"/>
<path d="M604.1,1016.9 A2.4,2.4 0 0 0 608.9,1016.9" fill="#fff" stroke-width="1.1"/>
<path d="M609.6,1016.9 A2.4,2.4 0 0 0 614.4,1016.9" fill="#fff" stroke-width="1.1"/>
<rect x="634.7" y="1013.3" width="17.3" height="3.6" fill="#fff" stroke-width="1"/>
<path d="M637.6,1016.9 A2.4,2.4 0 0 0 642.4,1016.9" fill="#fff" stroke-width="1.1"/>
<path d="M642.0,1016.9 A2.4,2.4 0 0 0 646.8,1016.9" fill="#fff" stroke-width="1.1"/>
<rect x="653" y="1013.3" width="66.0" height="3.6" fill="#fff" stroke-width="1"/>
<path d="M656.1,1016.9 A2.4,2.4 0 0 0 660.9,1016.9" fill="#fff" stroke-width="1.1"/>
<path d="M664.8,1016.9 A2.4,2.4 0 0 0 669.6,1016.9" fill="#fff" stroke-width="1.1"/>
<path d="M674.6,1016.9 A2.4,2.4 0 0 0 679.4,1016.9" fill="#fff" stroke-width="1.1"/>
<path d="M686.4,1016.9 A2.4,2.4 0 0 0 691.2,1016.9" fill="#fff" stroke-width="1.1"/>
<path d="M692.9,1016.9 A2.4,2.4 0 0 0 697.7,1016.9" fill="#fff" stroke-width="1.1"/>
<path d="M707.0,1016.9 A2.4,2.4 0 0 0 711.8,1016.9" fill="#fff" stroke-width="1.1"/>
<rect x="728.7" y="1013.3" width="44.3" height="3.6" fill="#fff" stroke-width="1"/>
<path d="M737.1,1016.9 A2.4,2.4 0 0 0 741.9,1016.9" fill="#fff" stroke-width="1.1"/>
<path d="M746.9,1016.9 A2.4,2.4 0 0 0 751.7,1016.9" fill="#fff" stroke-width="1.1"/>
<path d="M758.8,1016.9 A2.4,2.4 0 0 0 763.6,1016.9" fill="#fff" stroke-width="1.1"/>
<path d="M764.2,1016.9 A2.4,2.4 0 0 0 769.0,1016.9" fill="#fff" stroke-width="1.1"/>
<rect x="793.7" y="1013.3" width="16.3" height="3.6" fill="#fff" stroke-width="1"/>
<path d="M797.8,1016.9 A2.4,2.4 0 0 0 802.6,1016.9" fill="#fff" stroke-width="1.1"/>
<path d="M802.1,1016.9 A2.4,2.4 0 0 0 806.9,1016.9" fill="#fff" stroke-width="1.1"/>
<rect x="884.7" y="1013.3" width="19.3" height="3.6" fill="#fff" stroke-width="1"/>
<path d="M888.8,1016.9 A2.4,2.4 0 0 0 893.6,1016.9" fill="#fff" stroke-width="1.1"/>
<path d="M896.4,1016.9 A2.4,2.4 0 0 0 901.2,1016.9" fill="#fff" stroke-width="1.1"/>
<rect x="906.3" y="1013.3" width="17.4" height="3.6" fill="#fff" stroke-width="1"/>
<path d="M909.4,1016.9 A2.4,2.4 0 0 0 914.2,1016.9" fill="#fff" stroke-width="1.1"/>
<path d="M913.7,1016.9 A2.4,2.4 0 0 0 918.5,1016.9" fill="#fff" stroke-width="1.1"/>
<polygon points="661.0,1004.5 737.1,1004.5 737.1,1010.4 661.0,1010.4" fill="#fff"/>
<polygon points="670.2,828.4 746.7,828.4 746.7,834.4 670.2,834.4" fill="#fff"/>
<polygon points="665.0,834.4 741.7,834.4 741.7,1004.5 665.0,1004.5" fill="#fff"/>
<line x1="680.2" y1="834.4" x2="680.2" y2="1004.5" stroke-width="1.3"/>
<line x1="695.3" y1="834.4" x2="695.3" y2="1004.5" stroke-width="1.3"/>
<line x1="710.5" y1="834.4" x2="710.5" y2="1004.5" stroke-width="1.3"/>
<polygon points="711.0,834.4 741.7,834.4 741.7,849.5 711.0,849.5" fill="#fff"/>
<polygon points="711.0,849.5 741.7,849.5 741.7,989.3 711.0,989.3" fill="#fff"/>
<line x1="726.5" y1="849.5" x2="726.5" y2="989.3"/>
<line x1="734.3" y1="989.3" x2="734.3" y2="1004.5"/>
<polygon points="670.0,1010.4 679.0,1010.4 679.0,1016.4 670.0,1016.4" fill="#fff"/>
<polygon points="679.0,1010.4 687.0,1010.4 687.0,1016.4 679.0,1016.4" fill="#fff"/>
<polygon points="687.0,1010.4 697.0,1010.4 697.0,1016.4 687.0,1016.4" fill="#fff"/>
<polygon points="697.0,1010.4 704.0,1010.4 704.0,1016.4 697.0,1016.4" fill="#fff"/>
<polygon points="704.0,1010.4 715.0,1010.4 715.0,1016.4 704.0,1016.4" fill="#fff"/>
<polygon points="715.0,1010.4 728.0,1010.4 728.0,1016.4 715.0,1016.4" fill="#fff"/>
<polygon points="670.0,836.0 741.0,836.0 741.0,837.5 670.0,837.5" fill="#fff"/>
<polygon points="446.3,825.3 670.3,825.3 670.3,843.3 446.3,843.3" fill="#fff"/>
<circle cx="453.2" cy="831.0" r="1.7" fill="#111" stroke="none"/>
<circle cx="453.2" cy="840.4" r="1.7" fill="#111" stroke="none"/>
<circle cx="486.0" cy="831.0" r="1.7" fill="#111" stroke="none"/>
<circle cx="486.0" cy="840.4" r="1.7" fill="#111" stroke="none"/>
<circle cx="512.7" cy="831.0" r="1.7" fill="#111" stroke="none"/>
<circle cx="512.7" cy="840.4" r="1.7" fill="#111" stroke="none"/>
<circle cx="552.2" cy="831.0" r="1.7" fill="#111" stroke="none"/>
<circle cx="552.2" cy="840.4" r="1.7" fill="#111" stroke="none"/>
<circle cx="566.8" cy="831.0" r="1.7" fill="#111" stroke="none"/>
<circle cx="566.8" cy="840.4" r="1.7" fill="#111" stroke="none"/>
<circle cx="655.9" cy="831.0" r="1.7" fill="#111" stroke="none"/>
<circle cx="655.9" cy="840.4" r="1.7" fill="#111" stroke="none"/>
<polygon points="433.3,843.3 665.7,843.3 665.7,862.5 433.3,862.5" fill="#fff"/>
<circle cx="453.2" cy="846.4" r="1.7" fill="#111" stroke="none"/>
<circle cx="453.2" cy="859.6" r="1.7" fill="#111" stroke="none"/>
<circle cx="486.0" cy="846.4" r="1.7" fill="#111" stroke="none"/>
<circle cx="486.0" cy="859.6" r="1.7" fill="#111" stroke="none"/>
<circle cx="512.7" cy="846.4" r="1.7" fill="#111" stroke="none"/>
<circle cx="512.7" cy="859.6" r="1.7" fill="#111" stroke="none"/>
<circle cx="552.2" cy="846.4" r="1.7" fill="#111" stroke="none"/>
<circle cx="552.2" cy="859.6" r="1.7" fill="#111" stroke="none"/>
<circle cx="566.8" cy="846.4" r="1.7" fill="#111" stroke="none"/>
<circle cx="566.8" cy="859.6" r="1.7" fill="#111" stroke="none"/>
<circle cx="655.9" cy="846.4" r="1.7" fill="#111" stroke="none"/>
<circle cx="655.9" cy="859.6" r="1.7" fill="#111" stroke="none"/>
<polygon points="440.5,862.5 670.3,862.5 670.3,881.3 440.5,881.3" fill="#fff"/>
<circle cx="453.2" cy="865.6" r="1.7" fill="#111" stroke="none"/>
<circle cx="453.2" cy="878.4" r="1.7" fill="#111" stroke="none"/>
<circle cx="486.0" cy="865.6" r="1.7" fill="#111" stroke="none"/>
<circle cx="486.0" cy="878.4" r="1.7" fill="#111" stroke="none"/>
<circle cx="512.7" cy="865.6" r="1.7" fill="#111" stroke="none"/>
<circle cx="512.7" cy="878.4" r="1.7" fill="#111" stroke="none"/>
<circle cx="552.2" cy="865.6" r="1.7" fill="#111" stroke="none"/>
<circle cx="552.2" cy="878.4" r="1.7" fill="#111" stroke="none"/>
<circle cx="566.8" cy="865.6" r="1.7" fill="#111" stroke="none"/>
<circle cx="566.8" cy="878.4" r="1.7" fill="#111" stroke="none"/>
<circle cx="655.9" cy="865.6" r="1.7" fill="#111" stroke="none"/>
<circle cx="655.9" cy="878.4" r="1.7" fill="#111" stroke="none"/>
<polygon points="446.3,881.3 664.3,881.3 664.3,900.0 446.3,900.0" fill="#fff"/>
<circle cx="453.2" cy="884.4" r="1.7" fill="#111" stroke="none"/>
<circle cx="453.2" cy="897.1" r="1.7" fill="#111" stroke="none"/>
<circle cx="486.0" cy="884.4" r="1.7" fill="#111" stroke="none"/>
<circle cx="486.0" cy="897.1" r="1.7" fill="#111" stroke="none"/>
<circle cx="512.7" cy="884.4" r="1.7" fill="#111" stroke="none"/>
<circle cx="512.7" cy="897.1" r="1.7" fill="#111" stroke="none"/>
<circle cx="552.2" cy="884.4" r="1.7" fill="#111" stroke="none"/>
<circle cx="552.2" cy="897.1" r="1.7" fill="#111" stroke="none"/>
<circle cx="566.8" cy="884.4" r="1.7" fill="#111" stroke="none"/>
<circle cx="566.8" cy="897.1" r="1.7" fill="#111" stroke="none"/>
<circle cx="655.9" cy="884.4" r="1.7" fill="#111" stroke="none"/>
<circle cx="655.9" cy="897.1" r="1.7" fill="#111" stroke="none"/>
<polygon points="433.3,900.0 665.0,900.0 665.0,919.0 433.3,919.0" fill="#fff"/>
<circle cx="453.2" cy="903.1" r="1.7" fill="#111" stroke="none"/>
<circle cx="453.2" cy="916.1" r="1.7" fill="#111" stroke="none"/>
<circle cx="486.0" cy="903.1" r="1.7" fill="#111" stroke="none"/>
<circle cx="486.0" cy="916.1" r="1.7" fill="#111" stroke="none"/>
<circle cx="512.7" cy="903.1" r="1.7" fill="#111" stroke="none"/>
<circle cx="512.7" cy="916.1" r="1.7" fill="#111" stroke="none"/>
<circle cx="552.2" cy="903.1" r="1.7" fill="#111" stroke="none"/>
<circle cx="552.2" cy="916.1" r="1.7" fill="#111" stroke="none"/>
<circle cx="566.8" cy="903.1" r="1.7" fill="#111" stroke="none"/>
<circle cx="566.8" cy="916.1" r="1.7" fill="#111" stroke="none"/>
<circle cx="655.9" cy="903.1" r="1.7" fill="#111" stroke="none"/>
<circle cx="655.9" cy="916.1" r="1.7" fill="#111" stroke="none"/>
<polygon points="446.3,919.0 670.3,919.0 670.3,938.0 446.3,938.0" fill="#fff"/>
<circle cx="453.2" cy="922.1" r="1.7" fill="#111" stroke="none"/>
<circle cx="453.2" cy="935.1" r="1.7" fill="#111" stroke="none"/>
<circle cx="486.0" cy="922.1" r="1.7" fill="#111" stroke="none"/>
<circle cx="486.0" cy="935.1" r="1.7" fill="#111" stroke="none"/>
<circle cx="512.7" cy="922.1" r="1.7" fill="#111" stroke="none"/>
<circle cx="512.7" cy="935.1" r="1.7" fill="#111" stroke="none"/>
<circle cx="552.2" cy="922.1" r="1.7" fill="#111" stroke="none"/>
<circle cx="552.2" cy="935.1" r="1.7" fill="#111" stroke="none"/>
<circle cx="566.8" cy="922.1" r="1.7" fill="#111" stroke="none"/>
<circle cx="566.8" cy="935.1" r="1.7" fill="#111" stroke="none"/>
<circle cx="655.9" cy="922.1" r="1.7" fill="#111" stroke="none"/>
<circle cx="655.9" cy="935.1" r="1.7" fill="#111" stroke="none"/>
<polygon points="440.3,938.0 660.3,938.0 660.3,956.5 440.3,956.5" fill="#fff"/>
<circle cx="453.2" cy="941.1" r="1.7" fill="#111" stroke="none"/>
<circle cx="453.2" cy="953.6" r="1.7" fill="#111" stroke="none"/>
<circle cx="486.0" cy="941.1" r="1.7" fill="#111" stroke="none"/>
<circle cx="486.0" cy="953.6" r="1.7" fill="#111" stroke="none"/>
<circle cx="512.7" cy="941.1" r="1.7" fill="#111" stroke="none"/>
<circle cx="512.7" cy="953.6" r="1.7" fill="#111" stroke="none"/>
<circle cx="552.2" cy="941.1" r="1.7" fill="#111" stroke="none"/>
<circle cx="552.2" cy="953.6" r="1.7" fill="#111" stroke="none"/>
<circle cx="566.8" cy="941.1" r="1.7" fill="#111" stroke="none"/>
<circle cx="566.8" cy="953.6" r="1.7" fill="#111" stroke="none"/>
<circle cx="655.9" cy="941.1" r="1.7" fill="#111" stroke="none"/>
<circle cx="655.9" cy="953.6" r="1.7" fill="#111" stroke="none"/>
<polygon points="433.3,956.5 670.3,956.5 670.3,975.3 433.3,975.3" fill="#fff"/>
<circle cx="453.2" cy="959.6" r="1.7" fill="#111" stroke="none"/>
<circle cx="453.2" cy="972.4" r="1.7" fill="#111" stroke="none"/>
<circle cx="486.0" cy="959.6" r="1.7" fill="#111" stroke="none"/>
<circle cx="486.0" cy="972.4" r="1.7" fill="#111" stroke="none"/>
<circle cx="512.7" cy="959.6" r="1.7" fill="#111" stroke="none"/>
<circle cx="512.7" cy="972.4" r="1.7" fill="#111" stroke="none"/>
<circle cx="552.2" cy="959.6" r="1.7" fill="#111" stroke="none"/>
<circle cx="552.2" cy="972.4" r="1.7" fill="#111" stroke="none"/>
<circle cx="566.8" cy="959.6" r="1.7" fill="#111" stroke="none"/>
<circle cx="566.8" cy="972.4" r="1.7" fill="#111" stroke="none"/>
<circle cx="655.9" cy="959.6" r="1.7" fill="#111" stroke="none"/>
<circle cx="655.9" cy="972.4" r="1.7" fill="#111" stroke="none"/>
<polygon points="440.3,975.3 665.7,975.3 665.7,994.0 440.3,994.0" fill="#fff"/>
<circle cx="453.2" cy="978.4" r="1.7" fill="#111" stroke="none"/>
<circle cx="453.2" cy="991.1" r="1.7" fill="#111" stroke="none"/>
<circle cx="486.0" cy="978.4" r="1.7" fill="#111" stroke="none"/>
<circle cx="486.0" cy="991.1" r="1.7" fill="#111" stroke="none"/>
<circle cx="512.7" cy="978.4" r="1.7" fill="#111" stroke="none"/>
<circle cx="512.7" cy="991.1" r="1.7" fill="#111" stroke="none"/>
<circle cx="552.2" cy="978.4" r="1.7" fill="#111" stroke="none"/>
<circle cx="552.2" cy="991.1" r="1.7" fill="#111" stroke="none"/>
<circle cx="566.8" cy="978.4" r="1.7" fill="#111" stroke="none"/>
<circle cx="566.8" cy="991.1" r="1.7" fill="#111" stroke="none"/>
<circle cx="655.9" cy="978.4" r="1.7" fill="#111" stroke="none"/>
<circle cx="655.9" cy="991.1" r="1.7" fill="#111" stroke="none"/>
<polygon points="446.3,994.0 660.3,994.0 660.3,1013.3 446.3,1013.3" fill="#fff"/>
<circle cx="453.2" cy="997.1" r="1.7" fill="#111" stroke="none"/>
<circle cx="453.2" cy="1010.4" r="1.7" fill="#111" stroke="none"/>
<circle cx="486.0" cy="997.1" r="1.7" fill="#111" stroke="none"/>
<circle cx="486.0" cy="1010.4" r="1.7" fill="#111" stroke="none"/>
<circle cx="512.7" cy="997.1" r="1.7" fill="#111" stroke="none"/>
<circle cx="512.7" cy="1010.4" r="1.7" fill="#111" stroke="none"/>
<circle cx="552.2" cy="997.1" r="1.7" fill="#111" stroke="none"/>
<circle cx="552.2" cy="1010.4" r="1.7" fill="#111" stroke="none"/>
<circle cx="566.8" cy="997.1" r="1.7" fill="#111" stroke="none"/>
<circle cx="566.8" cy="1010.4" r="1.7" fill="#111" stroke="none"/>
<circle cx="655.9" cy="997.1" r="1.7" fill="#111" stroke="none"/>
<circle cx="655.9" cy="1010.4" r="1.7" fill="#111" stroke="none"/>
<polygon points="439.5,833.8 658.3,833.8 658.3,852.7 439.5,852.7" fill="#fff"/>
<circle cx="452.5" cy="837.0" r="1.7" fill="#111" stroke="none"/>
<circle cx="452.5" cy="849.7" r="1.7" fill="#111" stroke="none"/>
<circle cx="485.3" cy="837.0" r="1.7" fill="#111" stroke="none"/>
<circle cx="485.3" cy="849.7" r="1.7" fill="#111" stroke="none"/>
<circle cx="512.0" cy="837.0" r="1.7" fill="#111" stroke="none"/>
<circle cx="512.0" cy="849.7" r="1.7" fill="#111" stroke="none"/>
<circle cx="551.5" cy="837.0" r="1.7" fill="#111" stroke="none"/>
<circle cx="551.5" cy="849.7" r="1.7" fill="#111" stroke="none"/>
<circle cx="566.1" cy="837.0" r="1.7" fill="#111" stroke="none"/>
<circle cx="566.1" cy="849.7" r="1.7" fill="#111" stroke="none"/>
<circle cx="655.2" cy="837.0" r="1.7" fill="#111" stroke="none"/>
<circle cx="655.2" cy="849.7" r="1.7" fill="#111" stroke="none"/>
<polygon points="433.3,871.5 663.0,871.5 663.0,890.5 433.3,890.5" fill="#fff"/>
<circle cx="452.5" cy="874.7" r="1.7" fill="#111" stroke="none"/>
<circle cx="452.5" cy="887.5" r="1.7" fill="#111" stroke="none"/>
<circle cx="485.3" cy="874.7" r="1.7" fill="#111" stroke="none"/>
<circle cx="485.3" cy="887.5" r="1.7" fill="#111" stroke="none"/>
<circle cx="512.0" cy="874.7" r="1.7" fill="#111" stroke="none"/>
<circle cx="512.0" cy="887.5" r="1.7" fill="#111" stroke="none"/>
<circle cx="551.5" cy="874.7" r="1.7" fill="#111" stroke="none"/>
<circle cx="551.5" cy="887.5" r="1.7" fill="#111" stroke="none"/>
<circle cx="566.1" cy="874.7" r="1.7" fill="#111" stroke="none"/>
<circle cx="566.1" cy="887.5" r="1.7" fill="#111" stroke="none"/>
<circle cx="655.2" cy="874.7" r="1.7" fill="#111" stroke="none"/>
<circle cx="655.2" cy="887.5" r="1.7" fill="#111" stroke="none"/>
<polygon points="446.3,909.3 658.3,909.3 658.3,928.3 446.3,928.3" fill="#fff"/>
<circle cx="452.5" cy="912.5" r="1.7" fill="#111" stroke="none"/>
<circle cx="452.5" cy="925.3" r="1.7" fill="#111" stroke="none"/>
<circle cx="485.3" cy="912.5" r="1.7" fill="#111" stroke="none"/>
<circle cx="485.3" cy="925.3" r="1.7" fill="#111" stroke="none"/>
<circle cx="512.0" cy="912.5" r="1.7" fill="#111" stroke="none"/>
<circle cx="512.0" cy="925.3" r="1.7" fill="#111" stroke="none"/>
<circle cx="551.5" cy="912.5" r="1.7" fill="#111" stroke="none"/>
<circle cx="551.5" cy="925.3" r="1.7" fill="#111" stroke="none"/>
<circle cx="566.1" cy="912.5" r="1.7" fill="#111" stroke="none"/>
<circle cx="566.1" cy="925.3" r="1.7" fill="#111" stroke="none"/>
<circle cx="655.2" cy="912.5" r="1.7" fill="#111" stroke="none"/>
<circle cx="655.2" cy="925.3" r="1.7" fill="#111" stroke="none"/>
<polygon points="439.5,947.3 663.0,947.3 663.0,966.0 439.5,966.0" fill="#fff"/>
<circle cx="452.5" cy="950.5" r="1.7" fill="#111" stroke="none"/>
<circle cx="452.5" cy="963.0" r="1.7" fill="#111" stroke="none"/>
<circle cx="485.3" cy="950.5" r="1.7" fill="#111" stroke="none"/>
<circle cx="485.3" cy="963.0" r="1.7" fill="#111" stroke="none"/>
<circle cx="512.0" cy="950.5" r="1.7" fill="#111" stroke="none"/>
<circle cx="512.0" cy="963.0" r="1.7" fill="#111" stroke="none"/>
<circle cx="551.5" cy="950.5" r="1.7" fill="#111" stroke="none"/>
<circle cx="551.5" cy="963.0" r="1.7" fill="#111" stroke="none"/>
<circle cx="566.1" cy="950.5" r="1.7" fill="#111" stroke="none"/>
<circle cx="566.1" cy="963.0" r="1.7" fill="#111" stroke="none"/>
<circle cx="655.2" cy="950.5" r="1.7" fill="#111" stroke="none"/>
<circle cx="655.2" cy="963.0" r="1.7" fill="#111" stroke="none"/>
<polygon points="433.3,985.3 668.3,985.3 668.3,1003.3 433.3,1003.3" fill="#fff"/>
<circle cx="452.5" cy="988.5" r="1.7" fill="#111" stroke="none"/>
<circle cx="452.5" cy="1000.3" r="1.7" fill="#111" stroke="none"/>
<circle cx="485.3" cy="988.5" r="1.7" fill="#111" stroke="none"/>
<circle cx="485.3" cy="1000.3" r="1.7" fill="#111" stroke="none"/>
<circle cx="512.0" cy="988.5" r="1.7" fill="#111" stroke="none"/>
<circle cx="512.0" cy="1000.3" r="1.7" fill="#111" stroke="none"/>
<circle cx="551.5" cy="988.5" r="1.7" fill="#111" stroke="none"/>
<circle cx="551.5" cy="1000.3" r="1.7" fill="#111" stroke="none"/>
<circle cx="566.1" cy="988.5" r="1.7" fill="#111" stroke="none"/>
<circle cx="566.1" cy="1000.3" r="1.7" fill="#111" stroke="none"/>
<circle cx="655.2" cy="988.5" r="1.7" fill="#111" stroke="none"/>
<circle cx="655.2" cy="1000.3" r="1.7" fill="#111" stroke="none"/>
<line x1="505.0" y1="825.3" x2="505.0" y2="1013.3"/>
<line x1="558.3" y1="825.3" x2="558.3" y2="1013.3"/>
<line x1="559.9" y1="825.3" x2="559.9" y2="1013.3"/>
<polygon points="746.8,825.2 960.8,825.2 960.8,843.5 746.8,843.5" fill="#fff"/>
<circle cx="753.2" cy="830.9" r="1.7" fill="#111" stroke="none"/>
<circle cx="753.2" cy="840.6" r="1.7" fill="#111" stroke="none"/>
<circle cx="842.2" cy="830.9" r="1.7" fill="#111" stroke="none"/>
<circle cx="842.2" cy="840.6" r="1.7" fill="#111" stroke="none"/>
<circle cx="856.2" cy="830.9" r="1.7" fill="#111" stroke="none"/>
<circle cx="856.2" cy="840.6" r="1.7" fill="#111" stroke="none"/>
<circle cx="895.7" cy="830.9" r="1.7" fill="#111" stroke="none"/>
<circle cx="895.7" cy="840.6" r="1.7" fill="#111" stroke="none"/>
<circle cx="922.7" cy="830.9" r="1.7" fill="#111" stroke="none"/>
<circle cx="922.7" cy="840.6" r="1.7" fill="#111" stroke="none"/>
<circle cx="955.2" cy="830.9" r="1.7" fill="#111" stroke="none"/>
<circle cx="955.2" cy="840.6" r="1.7" fill="#111" stroke="none"/>
<polygon points="742.2,843.5 967.2,843.5 967.2,862.7 742.2,862.7" fill="#fff"/>
<circle cx="753.2" cy="846.6" r="1.7" fill="#111" stroke="none"/>
<circle cx="753.2" cy="859.8" r="1.7" fill="#111" stroke="none"/>
<circle cx="842.2" cy="846.6" r="1.7" fill="#111" stroke="none"/>
<circle cx="842.2" cy="859.8" r="1.7" fill="#111" stroke="none"/>
<circle cx="856.2" cy="846.6" r="1.7" fill="#111" stroke="none"/>
<circle cx="856.2" cy="859.8" r="1.7" fill="#111" stroke="none"/>
<circle cx="895.7" cy="846.6" r="1.7" fill="#111" stroke="none"/>
<circle cx="895.7" cy="859.8" r="1.7" fill="#111" stroke="none"/>
<circle cx="922.7" cy="846.6" r="1.7" fill="#111" stroke="none"/>
<circle cx="922.7" cy="859.8" r="1.7" fill="#111" stroke="none"/>
<circle cx="955.2" cy="846.6" r="1.7" fill="#111" stroke="none"/>
<circle cx="955.2" cy="859.8" r="1.7" fill="#111" stroke="none"/>
<polygon points="737.3,862.7 973.6,862.7 973.6,881.2 737.3,881.2" fill="#fff"/>
<circle cx="753.2" cy="865.8" r="1.7" fill="#111" stroke="none"/>
<circle cx="753.2" cy="878.3" r="1.7" fill="#111" stroke="none"/>
<circle cx="842.2" cy="865.8" r="1.7" fill="#111" stroke="none"/>
<circle cx="842.2" cy="878.3" r="1.7" fill="#111" stroke="none"/>
<circle cx="856.2" cy="865.8" r="1.7" fill="#111" stroke="none"/>
<circle cx="856.2" cy="878.3" r="1.7" fill="#111" stroke="none"/>
<circle cx="895.7" cy="865.8" r="1.7" fill="#111" stroke="none"/>
<circle cx="895.7" cy="878.3" r="1.7" fill="#111" stroke="none"/>
<circle cx="922.7" cy="865.8" r="1.7" fill="#111" stroke="none"/>
<circle cx="922.7" cy="878.3" r="1.7" fill="#111" stroke="none"/>
<circle cx="955.2" cy="865.8" r="1.7" fill="#111" stroke="none"/>
<circle cx="955.2" cy="878.3" r="1.7" fill="#111" stroke="none"/>
<polygon points="746.2,881.2 967.2,881.2 967.2,900.4 746.2,900.4" fill="#fff"/>
<circle cx="753.2" cy="884.3" r="1.7" fill="#111" stroke="none"/>
<circle cx="753.2" cy="897.5" r="1.7" fill="#111" stroke="none"/>
<circle cx="842.2" cy="884.3" r="1.7" fill="#111" stroke="none"/>
<circle cx="842.2" cy="897.5" r="1.7" fill="#111" stroke="none"/>
<circle cx="856.2" cy="884.3" r="1.7" fill="#111" stroke="none"/>
<circle cx="856.2" cy="897.5" r="1.7" fill="#111" stroke="none"/>
<circle cx="895.7" cy="884.3" r="1.7" fill="#111" stroke="none"/>
<circle cx="895.7" cy="897.5" r="1.7" fill="#111" stroke="none"/>
<circle cx="922.7" cy="884.3" r="1.7" fill="#111" stroke="none"/>
<circle cx="922.7" cy="897.5" r="1.7" fill="#111" stroke="none"/>
<circle cx="955.2" cy="884.3" r="1.7" fill="#111" stroke="none"/>
<circle cx="955.2" cy="897.5" r="1.7" fill="#111" stroke="none"/>
<polygon points="737.3,900.4 960.2,900.4 960.2,919.1 737.3,919.1" fill="#fff"/>
<circle cx="753.2" cy="903.5" r="1.7" fill="#111" stroke="none"/>
<circle cx="753.2" cy="916.2" r="1.7" fill="#111" stroke="none"/>
<circle cx="842.2" cy="903.5" r="1.7" fill="#111" stroke="none"/>
<circle cx="842.2" cy="916.2" r="1.7" fill="#111" stroke="none"/>
<circle cx="856.2" cy="903.5" r="1.7" fill="#111" stroke="none"/>
<circle cx="856.2" cy="916.2" r="1.7" fill="#111" stroke="none"/>
<circle cx="895.7" cy="903.5" r="1.7" fill="#111" stroke="none"/>
<circle cx="895.7" cy="916.2" r="1.7" fill="#111" stroke="none"/>
<circle cx="922.7" cy="903.5" r="1.7" fill="#111" stroke="none"/>
<circle cx="922.7" cy="916.2" r="1.7" fill="#111" stroke="none"/>
<circle cx="955.2" cy="903.5" r="1.7" fill="#111" stroke="none"/>
<circle cx="955.2" cy="916.2" r="1.7" fill="#111" stroke="none"/>
<polygon points="742.2,919.1 973.6,919.1 973.6,938.2 742.2,938.2" fill="#fff"/>
<circle cx="753.2" cy="922.2" r="1.7" fill="#111" stroke="none"/>
<circle cx="753.2" cy="935.3" r="1.7" fill="#111" stroke="none"/>
<circle cx="842.2" cy="922.2" r="1.7" fill="#111" stroke="none"/>
<circle cx="842.2" cy="935.3" r="1.7" fill="#111" stroke="none"/>
<circle cx="856.2" cy="922.2" r="1.7" fill="#111" stroke="none"/>
<circle cx="856.2" cy="935.3" r="1.7" fill="#111" stroke="none"/>
<circle cx="895.7" cy="922.2" r="1.7" fill="#111" stroke="none"/>
<circle cx="895.7" cy="935.3" r="1.7" fill="#111" stroke="none"/>
<circle cx="922.7" cy="922.2" r="1.7" fill="#111" stroke="none"/>
<circle cx="922.7" cy="935.3" r="1.7" fill="#111" stroke="none"/>
<circle cx="955.2" cy="922.2" r="1.7" fill="#111" stroke="none"/>
<circle cx="955.2" cy="935.3" r="1.7" fill="#111" stroke="none"/>
<polygon points="746.0,938.2 960.5,938.2 960.5,956.8 746.0,956.8" fill="#fff"/>
<circle cx="753.2" cy="941.3" r="1.7" fill="#111" stroke="none"/>
<circle cx="753.2" cy="953.9" r="1.7" fill="#111" stroke="none"/>
<circle cx="842.2" cy="941.3" r="1.7" fill="#111" stroke="none"/>
<circle cx="842.2" cy="953.9" r="1.7" fill="#111" stroke="none"/>
<circle cx="856.2" cy="941.3" r="1.7" fill="#111" stroke="none"/>
<circle cx="856.2" cy="953.9" r="1.7" fill="#111" stroke="none"/>
<circle cx="895.7" cy="941.3" r="1.7" fill="#111" stroke="none"/>
<circle cx="895.7" cy="953.9" r="1.7" fill="#111" stroke="none"/>
<circle cx="922.7" cy="941.3" r="1.7" fill="#111" stroke="none"/>
<circle cx="922.7" cy="953.9" r="1.7" fill="#111" stroke="none"/>
<circle cx="955.2" cy="941.3" r="1.7" fill="#111" stroke="none"/>
<circle cx="955.2" cy="953.9" r="1.7" fill="#111" stroke="none"/>
<polygon points="737.3,956.8 967.0,956.8 967.0,975.5 737.3,975.5" fill="#fff"/>
<circle cx="753.2" cy="959.9" r="1.7" fill="#111" stroke="none"/>
<circle cx="753.2" cy="972.6" r="1.7" fill="#111" stroke="none"/>
<circle cx="842.2" cy="959.9" r="1.7" fill="#111" stroke="none"/>
<circle cx="842.2" cy="972.6" r="1.7" fill="#111" stroke="none"/>
<circle cx="856.2" cy="959.9" r="1.7" fill="#111" stroke="none"/>
<circle cx="856.2" cy="972.6" r="1.7" fill="#111" stroke="none"/>
<circle cx="895.7" cy="959.9" r="1.7" fill="#111" stroke="none"/>
<circle cx="895.7" cy="972.6" r="1.7" fill="#111" stroke="none"/>
<circle cx="922.7" cy="959.9" r="1.7" fill="#111" stroke="none"/>
<circle cx="922.7" cy="972.6" r="1.7" fill="#111" stroke="none"/>
<circle cx="955.2" cy="959.9" r="1.7" fill="#111" stroke="none"/>
<circle cx="955.2" cy="972.6" r="1.7" fill="#111" stroke="none"/>
<polygon points="741.7,975.5 973.5,975.5 973.5,994.0 741.7,994.0" fill="#fff"/>
<circle cx="753.2" cy="978.6" r="1.7" fill="#111" stroke="none"/>
<circle cx="753.2" cy="991.1" r="1.7" fill="#111" stroke="none"/>
<circle cx="842.2" cy="978.6" r="1.7" fill="#111" stroke="none"/>
<circle cx="842.2" cy="991.1" r="1.7" fill="#111" stroke="none"/>
<circle cx="856.2" cy="978.6" r="1.7" fill="#111" stroke="none"/>
<circle cx="856.2" cy="991.1" r="1.7" fill="#111" stroke="none"/>
<circle cx="895.7" cy="978.6" r="1.7" fill="#111" stroke="none"/>
<circle cx="895.7" cy="991.1" r="1.7" fill="#111" stroke="none"/>
<circle cx="922.7" cy="978.6" r="1.7" fill="#111" stroke="none"/>
<circle cx="922.7" cy="991.1" r="1.7" fill="#111" stroke="none"/>
<circle cx="955.2" cy="978.6" r="1.7" fill="#111" stroke="none"/>
<circle cx="955.2" cy="991.1" r="1.7" fill="#111" stroke="none"/>
<polygon points="737.3,994.0 960.5,994.0 960.5,1013.4 737.3,1013.4" fill="#fff"/>
<circle cx="753.2" cy="997.1" r="1.7" fill="#111" stroke="none"/>
<circle cx="753.2" cy="1010.5" r="1.7" fill="#111" stroke="none"/>
<circle cx="842.2" cy="997.1" r="1.7" fill="#111" stroke="none"/>
<circle cx="842.2" cy="1010.5" r="1.7" fill="#111" stroke="none"/>
<circle cx="856.2" cy="997.1" r="1.7" fill="#111" stroke="none"/>
<circle cx="856.2" cy="1010.5" r="1.7" fill="#111" stroke="none"/>
<circle cx="895.7" cy="997.1" r="1.7" fill="#111" stroke="none"/>
<circle cx="895.7" cy="1010.5" r="1.7" fill="#111" stroke="none"/>
<circle cx="922.7" cy="997.1" r="1.7" fill="#111" stroke="none"/>
<circle cx="922.7" cy="1010.5" r="1.7" fill="#111" stroke="none"/>
<circle cx="955.2" cy="997.1" r="1.7" fill="#111" stroke="none"/>
<circle cx="955.2" cy="1010.5" r="1.7" fill="#111" stroke="none"/>
<polygon points="739.2,834.3 974.2,834.3 974.2,853.2 739.2,853.2" fill="#fff"/>
<circle cx="752.5" cy="837.5" r="1.7" fill="#111" stroke="none"/>
<circle cx="752.5" cy="850.2" r="1.7" fill="#111" stroke="none"/>
<circle cx="841.5" cy="837.5" r="1.7" fill="#111" stroke="none"/>
<circle cx="841.5" cy="850.2" r="1.7" fill="#111" stroke="none"/>
<circle cx="855.5" cy="837.5" r="1.7" fill="#111" stroke="none"/>
<circle cx="855.5" cy="850.2" r="1.7" fill="#111" stroke="none"/>
<circle cx="895.0" cy="837.5" r="1.7" fill="#111" stroke="none"/>
<circle cx="895.0" cy="850.2" r="1.7" fill="#111" stroke="none"/>
<circle cx="922.0" cy="837.5" r="1.7" fill="#111" stroke="none"/>
<circle cx="922.0" cy="850.2" r="1.7" fill="#111" stroke="none"/>
<circle cx="954.5" cy="837.5" r="1.7" fill="#111" stroke="none"/>
<circle cx="954.5" cy="850.2" r="1.7" fill="#111" stroke="none"/>
<polygon points="743.9,872.4 967.2,872.4 967.2,891.1 743.9,891.1" fill="#fff"/>
<circle cx="752.5" cy="875.6" r="1.7" fill="#111" stroke="none"/>
<circle cx="752.5" cy="888.1" r="1.7" fill="#111" stroke="none"/>
<circle cx="841.5" cy="875.6" r="1.7" fill="#111" stroke="none"/>
<circle cx="841.5" cy="888.1" r="1.7" fill="#111" stroke="none"/>
<circle cx="855.5" cy="875.6" r="1.7" fill="#111" stroke="none"/>
<circle cx="855.5" cy="888.1" r="1.7" fill="#111" stroke="none"/>
<circle cx="895.0" cy="875.6" r="1.7" fill="#111" stroke="none"/>
<circle cx="895.0" cy="888.1" r="1.7" fill="#111" stroke="none"/>
<circle cx="922.0" cy="875.6" r="1.7" fill="#111" stroke="none"/>
<circle cx="922.0" cy="888.1" r="1.7" fill="#111" stroke="none"/>
<circle cx="954.5" cy="875.6" r="1.7" fill="#111" stroke="none"/>
<circle cx="954.5" cy="888.1" r="1.7" fill="#111" stroke="none"/>
<polygon points="748.6,910.3 960.8,910.3 960.8,929.0 748.6,929.0" fill="#fff"/>
<circle cx="752.5" cy="913.5" r="1.7" fill="#111" stroke="none"/>
<circle cx="752.5" cy="926.0" r="1.7" fill="#111" stroke="none"/>
<circle cx="841.5" cy="913.5" r="1.7" fill="#111" stroke="none"/>
<circle cx="841.5" cy="926.0" r="1.7" fill="#111" stroke="none"/>
<circle cx="855.5" cy="913.5" r="1.7" fill="#111" stroke="none"/>
<circle cx="855.5" cy="926.0" r="1.7" fill="#111" stroke="none"/>
<circle cx="895.0" cy="913.5" r="1.7" fill="#111" stroke="none"/>
<circle cx="895.0" cy="926.0" r="1.7" fill="#111" stroke="none"/>
<circle cx="922.0" cy="913.5" r="1.7" fill="#111" stroke="none"/>
<circle cx="922.0" cy="926.0" r="1.7" fill="#111" stroke="none"/>
<circle cx="954.5" cy="913.5" r="1.7" fill="#111" stroke="none"/>
<circle cx="954.5" cy="926.0" r="1.7" fill="#111" stroke="none"/>
<polygon points="743.8,947.3 974.6,947.3 974.6,966.4 743.8,966.4" fill="#fff"/>
<circle cx="752.5" cy="950.5" r="1.7" fill="#111" stroke="none"/>
<circle cx="752.5" cy="963.4" r="1.7" fill="#111" stroke="none"/>
<circle cx="841.5" cy="950.5" r="1.7" fill="#111" stroke="none"/>
<circle cx="841.5" cy="963.4" r="1.7" fill="#111" stroke="none"/>
<circle cx="855.5" cy="950.5" r="1.7" fill="#111" stroke="none"/>
<circle cx="855.5" cy="963.4" r="1.7" fill="#111" stroke="none"/>
<circle cx="895.0" cy="950.5" r="1.7" fill="#111" stroke="none"/>
<circle cx="895.0" cy="963.4" r="1.7" fill="#111" stroke="none"/>
<circle cx="922.0" cy="950.5" r="1.7" fill="#111" stroke="none"/>
<circle cx="922.0" cy="963.4" r="1.7" fill="#111" stroke="none"/>
<circle cx="954.5" cy="950.5" r="1.7" fill="#111" stroke="none"/>
<circle cx="954.5" cy="963.4" r="1.7" fill="#111" stroke="none"/>
<polygon points="748.2,985.2 968.0,985.2 968.0,1004.8 748.2,1004.8" fill="#fff"/>
<circle cx="752.5" cy="988.5" r="1.7" fill="#111" stroke="none"/>
<circle cx="752.5" cy="1001.8" r="1.7" fill="#111" stroke="none"/>
<circle cx="841.5" cy="988.5" r="1.7" fill="#111" stroke="none"/>
<circle cx="841.5" cy="1001.8" r="1.7" fill="#111" stroke="none"/>
<circle cx="855.5" cy="988.5" r="1.7" fill="#111" stroke="none"/>
<circle cx="855.5" cy="1001.8" r="1.7" fill="#111" stroke="none"/>
<circle cx="895.0" cy="988.5" r="1.7" fill="#111" stroke="none"/>
<circle cx="895.0" cy="1001.8" r="1.7" fill="#111" stroke="none"/>
<circle cx="922.0" cy="988.5" r="1.7" fill="#111" stroke="none"/>
<circle cx="922.0" cy="1001.8" r="1.7" fill="#111" stroke="none"/>
<circle cx="954.5" cy="988.5" r="1.7" fill="#111" stroke="none"/>
<circle cx="954.5" cy="1001.8" r="1.7" fill="#111" stroke="none"/>
<line x1="901.8" y1="825.3" x2="901.8" y2="1013.3"/>
<line x1="846.6" y1="825.3" x2="846.6" y2="1013.3"/>
<line x1="848.2" y1="825.3" x2="848.2" y2="1013.3"/>
<polygon points="504.0,852.5 521.5,856.5 516.5,878.5 499.0,874.0" fill="#fff"/>
<polygon points="521.5,855.5 529.5,855.5 536.0,859.0 534.0,870.0 519.5,870.5" fill="#fff"/>
<circle cx="510.0" cy="865.0" r="1.55" fill="#111" stroke="none"/>
<circle cx="514.0" cy="865.7" r="1.55" fill="#111" stroke="none"/>
<circle cx="509.4" cy="868.7" r="1.55" fill="#111" stroke="none"/>
<circle cx="513.6" cy="869.4" r="1.55" fill="#111" stroke="none"/>
<polygon points="581.7,970.7 593.7,967.3 596.3,982.0 584.3,982.7" fill="#fff"/>
<polygon points="593.7,967.3 611.7,962.7 617.7,984.7 599.7,990.0" fill="#fff"/>
<circle cx="603.0" cy="975.0" r="1.55" fill="#111" stroke="none"/>
<circle cx="607.0" cy="974.6" r="1.55" fill="#111" stroke="none"/>
<circle cx="603.4" cy="979.0" r="1.55" fill="#111" stroke="none"/>
<circle cx="607.4" cy="978.6" r="1.55" fill="#111" stroke="none"/>
</g>
</svg></body></html>
